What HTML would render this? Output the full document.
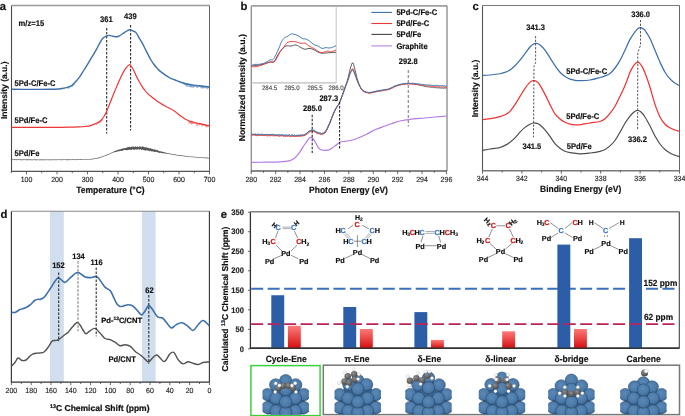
<!DOCTYPE html>
<html><head><meta charset="utf-8"><style>
html,body{margin:0;padding:0;background:#fff;}
svg{display:block;font-family:"Liberation Sans", sans-serif;text-rendering:geometricPrecision;}
</style></head><body>
<svg width="685" height="416" viewBox="0 0 685 416" style="will-change:transform">
<rect width="685" height="416" fill="#fff"/>
<line x1="11.5" y1="5.5" x2="11.5" y2="171.4" stroke="#4a4a4a" stroke-width="1.1"/>
<line x1="11.0" y1="171.4" x2="209.5" y2="171.4" stroke="#555" stroke-width="1.1"/>
<line x1="11.5" y1="5.5" x2="209.5" y2="5.5" stroke="#999" stroke-width="1.3"/>
<line x1="209.5" y1="5.5" x2="209.5" y2="171.4" stroke="#666" stroke-width="1.0"/>
<line x1="11.25" y1="171.4" x2="11.25" y2="173.20000000000002" stroke="#444" stroke-width="0.8" />
<line x1="26.5" y1="171.4" x2="26.5" y2="174.4" stroke="#444" stroke-width="0.8" />
<line x1="41.75" y1="171.4" x2="41.75" y2="173.20000000000002" stroke="#444" stroke-width="0.8" />
<line x1="57.0" y1="171.4" x2="57.0" y2="174.4" stroke="#444" stroke-width="0.8" />
<line x1="72.25" y1="171.4" x2="72.25" y2="173.20000000000002" stroke="#444" stroke-width="0.8" />
<line x1="87.5" y1="171.4" x2="87.5" y2="174.4" stroke="#444" stroke-width="0.8" />
<line x1="102.75" y1="171.4" x2="102.75" y2="173.20000000000002" stroke="#444" stroke-width="0.8" />
<line x1="118.0" y1="171.4" x2="118.0" y2="174.4" stroke="#444" stroke-width="0.8" />
<line x1="133.25" y1="171.4" x2="133.25" y2="173.20000000000002" stroke="#444" stroke-width="0.8" />
<line x1="148.5" y1="171.4" x2="148.5" y2="174.4" stroke="#444" stroke-width="0.8" />
<line x1="163.75" y1="171.4" x2="163.75" y2="173.20000000000002" stroke="#444" stroke-width="0.8" />
<line x1="179.0" y1="171.4" x2="179.0" y2="174.4" stroke="#444" stroke-width="0.8" />
<line x1="194.25" y1="171.4" x2="194.25" y2="173.20000000000002" stroke="#444" stroke-width="0.8" />
<line x1="209.5" y1="171.4" x2="209.5" y2="174.4" stroke="#444" stroke-width="0.8" />
<text transform="translate(26.50,182) scale(1,1.07)" font-size="7" font-weight="normal" text-anchor="middle" fill="#222" stroke="#222" stroke-width="0.12" >100</text>
<text transform="translate(57.00,182) scale(1,1.07)" font-size="7" font-weight="normal" text-anchor="middle" fill="#222" stroke="#222" stroke-width="0.12" >200</text>
<text transform="translate(87.50,182) scale(1,1.07)" font-size="7" font-weight="normal" text-anchor="middle" fill="#222" stroke="#222" stroke-width="0.12" >300</text>
<text transform="translate(118.00,182) scale(1,1.07)" font-size="7" font-weight="normal" text-anchor="middle" fill="#222" stroke="#222" stroke-width="0.12" >400</text>
<text transform="translate(148.50,182) scale(1,1.07)" font-size="7" font-weight="normal" text-anchor="middle" fill="#222" stroke="#222" stroke-width="0.12" >500</text>
<text transform="translate(179.00,182) scale(1,1.07)" font-size="7" font-weight="normal" text-anchor="middle" fill="#222" stroke="#222" stroke-width="0.12" >600</text>
<text transform="translate(209.50,182) scale(1,1.07)" font-size="7" font-weight="normal" text-anchor="middle" fill="#222" stroke="#222" stroke-width="0.12" >700</text>
<text transform="translate(110.4,193) scale(1,1.07)" font-size="8.5" font-weight="bold" text-anchor="middle" fill="#111" stroke="#111" stroke-width="0.16" >Temperature (°C)</text>
<text transform="translate(6.9,90.3) rotate(-90)" x="0" y="0" font-size="8.5" font-weight="bold" text-anchor="middle" fill="#111" stroke="#111" stroke-width="0.16">Intensity (a.u.)</text>
<text x="-0.2" y="10.0" font-size="11.3" font-weight="bold" fill="#111" stroke="#111" stroke-width="0.2">a</text>
<text transform="translate(18.6,25.6) scale(1,1.07)" font-size="7.6" font-weight="bold" text-anchor="start" fill="#111" stroke="#111" stroke-width="0.16" >m/z=15</text>
<text transform="translate(106.4,21.6) scale(1,1.07)" font-size="7.6" font-weight="bold" text-anchor="middle" fill="#111" stroke="#111" stroke-width="0.16" >361</text>
<text transform="translate(130.4,19.2) scale(1,1.07)" font-size="7.6" font-weight="bold" text-anchor="middle" fill="#111" stroke="#111" stroke-width="0.16" >439</text>
<text transform="translate(14.5,85.5) scale(1,1.07)" font-size="7.6" font-weight="bold" text-anchor="start" fill="#111" stroke="#111" stroke-width="0.16" >5Pd-C/Fe-C</text>
<text transform="translate(14.5,123) scale(1,1.07)" font-size="7.6" font-weight="bold" text-anchor="start" fill="#111" stroke="#111" stroke-width="0.16" >5Pd/Fe-C</text>
<text transform="translate(14.5,156) scale(1,1.07)" font-size="7.6" font-weight="bold" text-anchor="start" fill="#111" stroke="#111" stroke-width="0.16" >5Pd/Fe</text>
<line x1="106.7" y1="28" x2="106.7" y2="133.5" stroke="#222" stroke-width="1.05" stroke-dasharray="2.5,1.5"/>
<line x1="130.6" y1="25" x2="130.6" y2="130.5" stroke="#222" stroke-width="1.05" stroke-dasharray="2.5,1.5"/>
<path d="M11.50,159.66 L11.80,160.01 L12.10,159.63 L12.40,160.02 L12.70,159.58 L13.00,159.91 L13.30,159.71 L13.60,160.07 L13.90,159.66 L14.20,159.95 L14.50,159.51 L14.80,160.00 L15.10,159.55 L15.40,160.00 L15.70,159.59 L16.00,159.94 L16.30,159.59 L16.60,160.09 L16.90,159.62 L17.20,160.07 L17.50,159.59 L17.80,159.93 L18.10,159.58 L18.40,160.04 L18.70,159.67 L19.00,159.93 L19.30,159.56 L19.60,160.02 L19.90,159.59 L20.20,160.11 L20.50,159.60 L20.80,160.12 L21.10,159.67 L21.40,160.10 L21.70,159.66 L22.00,160.13 L22.30,159.57 L22.60,159.96 L22.90,159.73 L23.20,159.98 L23.50,159.56 L23.80,160.03 L24.10,159.63 L24.40,160.01 L24.70,159.66 L25.00,160.03 L25.30,159.69 L25.60,160.07 L25.90,159.65 L26.20,160.14 L26.50,159.63 L26.80,160.15 L27.10,159.59 L27.40,160.16 L27.70,159.63 L28.00,159.99 L28.30,159.60 L28.60,160.16 L28.90,159.59 L29.20,160.08 L29.50,159.63 L29.80,160.01 L30.10,159.61 L30.40,160.09 L30.70,159.73 L31.00,159.98 L31.30,159.61 L31.60,160.18 L31.90,159.77 L32.20,160.14 L32.50,159.71 L32.80,160.01 L33.10,159.73 L33.40,160.14 L33.70,159.61 L34.00,159.99 L34.30,159.67 L34.60,159.99 L34.90,159.65 L35.20,160.05 L35.50,159.62 L35.80,160.19 L36.10,159.70 L36.40,160.19 L36.70,159.74 L37.00,160.00 L37.30,159.68 L37.60,159.99 L37.90,159.77 L38.20,160.07 L38.50,159.68 L38.80,160.02 L39.10,159.80 L39.40,160.17 L39.70,159.74 L40.00,160.19 L40.30,159.62 L40.60,160.07 L40.90,159.72 L41.20,160.10 L41.50,159.68 L41.80,160.12 L42.10,159.70 L42.40,160.12 L42.70,159.62 L43.00,160.10 L43.30,159.72 L43.60,160.15 L43.90,159.77 L44.20,160.06 L44.50,159.61 L44.80,160.11 L45.10,159.70 L45.40,160.00 L45.70,159.73 L46.00,160.12 L46.30,159.81 L46.60,160.12 L46.90,159.68 L47.20,160.01 L47.50,159.68 L47.80,160.09 L48.10,159.67 L48.40,160.07 L48.70,159.66 L49.00,160.15 L49.30,159.81 L49.60,160.00 L49.90,159.67 L50.20,160.19 L50.50,159.76 L50.80,160.08 L51.10,159.68 L51.40,160.05 L51.70,159.73 L52.00,160.05 L52.30,159.73 L52.60,160.11 L52.90,159.74 L53.20,160.06 L53.50,159.64 L53.80,159.98 L54.10,159.68 L54.40,160.13 L54.70,159.73 L55.00,160.02 L55.30,159.63 L55.60,160.02 L55.90,159.75 L56.20,160.06 L56.50,159.64 L56.80,159.99 L57.10,159.72 L57.40,160.04 L57.70,159.61 L58.00,160.06 L58.30,159.60 L58.60,160.00 L58.90,159.71 L59.20,160.10 L59.50,159.59 L59.80,160.05 L60.10,159.73 L60.40,159.98 L60.70,159.66 L61.00,159.99 L61.30,159.60 L61.60,160.13 L61.90,159.73 L62.20,160.01 L62.50,159.60 L62.80,160.08 L63.10,159.60 L63.40,160.02 L63.70,159.73 L64.00,160.00 L64.30,159.59 L64.60,159.99 L64.90,159.68 L65.20,160.02 L65.50,159.66 L65.80,160.02 L66.10,159.56 L66.40,159.96 L66.70,159.74 L67.00,160.12 L67.30,159.56 L67.60,160.13 L67.90,159.65 L68.20,160.12 L68.50,159.54 L68.80,159.96 L69.10,159.57 L69.40,160.08 L69.70,159.59 L70.00,160.01 L70.30,159.66 L70.60,159.97 L70.90,159.67 L71.20,159.91 L71.50,159.59 L71.80,159.95 L72.10,159.54 L72.40,159.89 L72.70,159.51 L73.00,160.02 L73.30,159.50 L73.60,160.06 L73.90,159.50 L74.20,159.99 L74.50,159.68 L74.80,160.02 L75.10,159.64 L75.40,159.92 L75.70,159.53 L76.00,159.96 L76.30,159.58 L76.60,160.04 L76.90,159.53 L77.20,159.91 L77.50,159.60 L77.80,160.01 L78.10,159.54 L78.40,159.98 L78.70,159.56 L79.00,159.85 L79.30,159.51 L79.60,159.97 L79.90,159.58 L80.20,159.96 L80.50,159.41 L80.80,159.95 L81.10,159.42 L81.40,159.77 L81.70,159.45 L82.00,159.94 L82.30,159.56 L82.60,159.81 L82.90,159.51 L83.20,159.85 L83.50,159.46 L83.80,159.82 L84.10,159.37 L84.40,159.71 L84.70,159.51 L85.00,159.72 L85.30,159.47 L85.60,159.69 L85.90,159.28 L86.20,159.83 L86.50,159.44 L86.80,159.73 L87.10,159.37 L87.40,159.67 L87.70,159.34 L88.00,159.71 L88.30,159.26 L88.60,159.62 L88.90,159.30 L89.20,159.57 L89.50,159.28 L89.80,159.58 L90.10,159.11 L90.40,159.49 L90.70,159.19 L91.00,159.39 L91.30,159.06 L91.60,159.41 L91.90,158.90 L92.20,159.28 L92.50,158.80 L92.80,159.23 L93.10,158.77 L93.40,159.06 L93.70,158.63 L94.00,159.01 L94.30,158.54 L94.60,158.90 L94.90,158.43 L95.20,158.71 L95.50,158.32 L95.80,158.71 L96.10,158.32 L96.40,158.55 L96.70,158.13 L97.00,158.53 L97.30,157.90 L97.60,158.28 L97.90,157.75 L98.20,158.20 L98.50,157.71 L98.80,157.95 L99.10,157.56 L99.40,157.84 L99.70,157.26 L100.00,157.68 L100.30,157.05 L100.60,157.45 L100.90,156.88 L101.20,157.24 L101.50,156.82 L101.80,157.05 L102.10,156.65 L102.40,156.76 L102.70,156.29 L103.00,156.54 L103.30,156.23 L103.60,156.35 L103.90,155.86 L104.20,156.16 L104.50,155.83 L104.80,156.08 L105.10,155.59 L105.40,155.87 L105.70,155.26 L106.00,155.65 L106.30,154.98 L106.60,155.37 L106.90,154.78 L107.20,155.02 L107.50,154.55 L107.80,154.87 L108.10,154.31 L108.40,154.53 L108.70,154.04 L109.00,154.43 L109.30,153.91 L109.60,154.03 L109.90,153.53 L110.20,153.86 L110.50,153.32 L110.80,153.45 L111.10,153.04 L111.40,153.26 L111.70,152.66 L112.00,152.95 L112.30,152.48 L112.60,152.70 L112.90,152.20 L113.20,152.50 L113.50,152.00 L113.80,152.32 L114.10,151.44 L114.40,152.11 L114.70,151.25 L115.00,151.84 L115.30,151.02 L115.60,151.94 L115.90,150.79 L116.20,151.68 L116.50,150.65 L116.80,151.60 L117.10,150.20 L117.40,151.18 L117.70,150.44 L118.00,151.39 L118.30,149.73 L118.60,151.11 L118.90,149.83 L119.20,151.12 L119.50,149.81 L119.80,150.68 L120.10,149.62 L120.40,150.79 L120.70,149.36 L121.00,150.39 L121.30,148.88 L121.60,150.86 L121.90,149.03 L122.20,150.55 L122.50,148.77 L122.80,150.59 L123.10,148.46 L123.40,149.95 L123.70,148.64 L124.00,149.62 L124.30,148.25 L124.60,149.87 L124.90,148.42 L125.20,149.76 L125.50,148.15 L125.80,150.10 L126.10,148.22 L126.40,150.27 L126.70,147.76 L127.00,149.79 L127.30,147.66 L127.60,150.00 L127.90,147.17 L128.20,149.64 L128.50,147.46 L128.80,149.78 L129.10,146.94 L129.40,149.36 L129.70,147.00 L130.00,149.98 L130.30,147.24 L130.60,149.07 L130.90,147.45 L131.20,149.62 L131.50,146.86 L131.80,149.89 L132.10,146.58 L132.40,148.98 L132.70,147.35 L133.00,148.97 L133.30,147.31 L133.60,149.51 L133.90,146.41 L134.20,149.74 L134.50,147.14 L134.80,149.68 L135.10,147.04 L135.40,149.09 L135.70,146.47 L136.00,148.64 L136.30,147.28 L136.60,149.62 L136.90,147.01 L137.20,148.99 L137.50,146.63 L137.80,149.43 L138.10,147.40 L138.40,149.00 L138.70,146.86 L139.00,149.24 L139.30,147.19 L139.60,149.41 L139.90,146.25 L140.20,149.20 L140.50,146.85 L140.80,148.90 L141.10,147.27 L141.40,149.69 L141.70,147.55 L142.00,150.04 L142.30,146.57 L142.60,149.06 L142.90,146.60 L143.20,149.50 L143.50,146.91 L143.80,150.09 L144.10,147.63 L144.40,150.06 L144.70,147.27 L145.00,150.32 L145.30,147.88 L145.60,150.35 L145.90,147.11 L146.20,150.34 L146.50,147.78 L146.80,149.74 L147.10,147.96 L147.40,150.15 L147.70,147.81 L148.00,150.66 L148.30,148.13 L148.60,150.16 L148.90,148.17 L149.20,150.81 L149.50,148.87 L149.80,151.23 L150.10,148.44 L150.40,150.43 L150.70,148.27 L151.00,150.57 L151.30,149.11 L151.60,151.34 L151.90,148.96 L152.20,151.26 L152.50,149.06 L152.80,151.27 L153.10,149.58 L153.40,151.09 L153.70,149.99 L154.00,151.77 L154.30,149.43 L154.60,151.70 L154.90,149.61 L155.20,151.63 L155.50,150.25 L155.80,151.77 L156.10,149.83 L156.40,151.57 L156.70,150.34 L157.00,151.88 L157.30,150.27 L157.60,152.09 L157.90,150.82 L158.20,152.24 L158.50,150.81 L158.80,152.65 L159.10,151.13 L159.40,152.80 L159.70,151.47 L160.00,152.46 L160.30,151.63 L160.60,152.46 L160.90,151.32 L161.20,152.98 L161.50,151.88 L161.80,152.73 L162.10,151.89 L162.40,153.16 L162.70,151.83 L163.00,153.24 L163.30,152.12 L163.60,153.01 L163.90,152.38 L164.20,153.13 L164.50,152.48 L164.80,153.38 L165.10,152.77 L165.40,153.33 L165.70,152.71 L166.00,153.34 L166.30,152.87 L166.60,153.68 L166.90,153.00 L167.20,153.61 L167.50,153.26 L167.80,153.74 L168.10,153.36 L168.40,153.93 L168.70,153.46 L169.00,153.90 L169.30,153.53 L169.60,154.05 L169.90,153.69 L170.20,154.20 L170.50,153.92 L170.80,154.32 L171.10,153.89 L171.40,154.36 L171.70,154.02 L172.00,154.46 L172.30,154.19 L172.60,154.57 L172.90,154.33 L173.20,154.67 L173.50,154.30 L173.80,154.75 L174.10,154.41 L174.40,154.96 L174.70,154.44 L175.00,154.88 L175.30,154.55 L175.60,155.08 L175.90,154.80 L176.20,155.11 L176.50,154.86 L176.80,155.15 L177.10,154.88 L177.40,155.42 L177.70,155.02 L178.00,155.49 L178.30,155.03 L178.60,155.42 L178.90,155.08 L179.20,155.61 L179.50,155.15 L179.80,155.71 L180.10,155.27 L180.40,155.72 L180.70,155.33 L181.00,155.92 L181.30,155.40 L181.60,155.89 L181.90,155.50 L182.20,155.98 L182.50,155.71 L182.80,155.96 L183.10,155.79 L183.40,156.06 L183.70,155.84 L184.00,156.20 L184.30,155.80 L184.60,156.27 L184.90,155.93 L185.20,156.37 L185.50,156.02 L185.80,156.39 L186.10,155.99 L186.40,156.44 L186.70,156.17 L187.00,156.61 L187.30,156.12 L187.60,156.56 L187.90,156.26 L188.20,156.66 L188.50,156.27 L188.80,156.65 L189.10,156.45 L189.40,156.71 L189.70,156.35 L190.00,156.75 L190.30,156.48 L190.60,156.82 L190.90,156.59 L191.20,156.87 L191.50,156.60 L191.80,156.93 L192.10,156.74 L192.40,156.97 L192.70,156.76 L193.00,157.11 L193.30,156.84 L193.60,157.07 L193.90,156.82 L194.20,157.20 L194.50,156.82 L194.80,157.18 L195.10,156.93 L195.40,157.31 L195.70,157.07 L196.00,157.48 L196.30,157.08 L196.60,157.35 L196.90,157.08 L197.20,157.42 L197.50,157.09 L197.80,157.50 L198.10,157.25 L198.40,157.49 L198.70,157.17 L199.00,157.58 L199.30,157.20 L199.60,157.67 L199.90,157.22 L200.20,157.68 L200.50,157.41 L200.80,157.72 L201.10,157.34 L201.40,157.84 L201.70,157.48 L202.00,157.77 L202.30,157.45 L202.60,158.00 L202.90,157.51 L203.20,157.84 L203.50,157.68 L203.80,157.90 L204.10,157.69 L204.40,157.93 L204.70,157.76 L205.00,158.11 L205.30,157.62 L205.60,158.05 L205.90,157.65 L206.20,158.15 L206.50,157.73 L206.80,158.29 L207.10,157.74 L207.40,158.15 L207.70,157.92 L208.00,158.31 L208.30,157.82 L208.60,158.24 L208.90,158.00 L209.20,158.45" fill="none" stroke="#474747" stroke-width="0.6"/>
<path d="M11.50,127.30 C17.92,127.32 40.25,127.42 50.00,127.40 C59.75,127.38 65.00,127.30 70.00,127.20 C75.00,127.10 77.50,126.92 80.00,126.80 C82.50,126.68 83.33,126.67 85.00,126.50 C86.67,126.33 88.33,126.25 90.00,125.80 C91.67,125.35 93.33,124.55 95.00,123.80 C96.67,123.05 98.50,122.52 100.00,121.30 C101.50,120.08 102.92,118.10 104.00,116.50 C105.08,114.90 105.50,113.95 106.50,111.70 C107.50,109.45 108.58,106.52 110.00,103.00 C111.42,99.48 113.33,94.60 115.00,90.60 C116.67,86.60 118.33,82.53 120.00,79.00 C121.67,75.47 123.45,71.77 125.00,69.40 C126.55,67.03 128.30,65.32 129.30,64.80 C130.30,64.28 130.38,65.60 131.00,66.30 C131.62,67.00 132.17,67.48 133.00,69.00 C133.83,70.52 135.00,73.35 136.00,75.40 C137.00,77.45 138.00,79.48 139.00,81.30 C140.00,83.12 141.00,84.77 142.00,86.30 C143.00,87.83 144.00,89.23 145.00,90.50 C146.00,91.77 147.17,93.05 148.00,93.90 C148.83,94.75 148.83,94.65 150.00,95.60 C151.17,96.55 153.33,98.35 155.00,99.60 C156.67,100.85 158.33,102.03 160.00,103.10 C161.67,104.17 163.33,105.10 165.00,106.00 C166.67,106.90 168.33,107.58 170.00,108.50 C171.67,109.42 173.33,110.33 175.00,111.50 C176.67,112.67 178.33,114.25 180.00,115.50 C181.67,116.75 183.33,118.05 185.00,119.00 C186.67,119.95 187.50,120.42 190.00,121.20 C192.50,121.98 196.75,122.93 200.00,123.70 C203.25,124.47 207.92,125.45 209.50,125.80" fill="none" stroke="#ee3535" stroke-width="1.2" stroke-linejoin="round" />
<path d="M11.50,89.30 C14.58,89.32 23.58,89.40 30.00,89.40 C36.42,89.40 45.83,89.33 50.00,89.30 C54.17,89.27 53.00,89.33 55.00,89.20 C57.00,89.07 59.83,88.83 62.00,88.50 C64.17,88.17 66.33,87.75 68.00,87.20 C69.67,86.65 70.67,86.18 72.00,85.20 C73.33,84.22 74.67,82.78 76.00,81.30 C77.33,79.82 78.67,78.18 80.00,76.30 C81.33,74.42 82.67,72.10 84.00,70.00 C85.33,67.90 86.67,65.88 88.00,63.70 C89.33,61.52 90.67,59.15 92.00,56.90 C93.33,54.65 94.67,52.58 96.00,50.20 C97.33,47.82 98.83,44.62 100.00,42.60 C101.17,40.58 102.00,39.17 103.00,38.10 C104.00,37.03 105.00,36.65 106.00,36.20 C107.00,35.75 107.83,35.38 109.00,35.40 C110.17,35.42 111.67,36.07 113.00,36.30 C114.33,36.53 115.83,36.93 117.00,36.80 C118.17,36.67 119.00,36.05 120.00,35.50 C121.00,34.95 121.83,34.28 123.00,33.50 C124.17,32.72 125.83,31.42 127.00,30.80 C128.17,30.18 129.00,29.78 130.00,29.80 C131.00,29.82 132.00,30.43 133.00,30.90 C134.00,31.37 135.00,31.48 136.00,32.60 C137.00,33.72 138.00,35.93 139.00,37.60 C140.00,39.27 141.00,40.78 142.00,42.60 C143.00,44.42 144.00,46.53 145.00,48.50 C146.00,50.47 147.00,52.48 148.00,54.40 C149.00,56.32 150.00,58.32 151.00,60.00 C152.00,61.68 153.00,63.17 154.00,64.50 C155.00,65.83 156.00,66.90 157.00,68.00 C158.00,69.10 158.67,69.95 160.00,71.10 C161.33,72.25 163.33,73.75 165.00,74.90 C166.67,76.05 168.33,77.15 170.00,78.00 C171.67,78.85 173.33,79.33 175.00,80.00 C176.67,80.67 178.33,81.42 180.00,82.00 C181.67,82.58 183.00,83.02 185.00,83.50 C187.00,83.98 189.50,84.53 192.00,84.90 C194.50,85.27 197.08,85.35 200.00,85.70 C202.92,86.05 207.92,86.78 209.50,87.00" fill="none" stroke="#3d70ac" stroke-width="1.4" stroke-linejoin="round" />
<path d="M183.00,82.97 L183.20,83.91 M184.00,83.25 L184.20,84.89 M185.00,83.50 L185.20,85.00 M186.00,83.74 L186.20,86.12 M187.00,83.96 L187.20,86.98 M188.00,84.18 L188.20,85.27 M189.00,84.38 L189.20,86.92 M190.00,84.57 L190.20,87.09 M191.00,84.74 L191.20,87.52 M192.00,84.90 L192.20,86.96 M193.00,85.03 L193.20,88.04 M194.00,85.14 L194.20,86.71 M195.00,85.23 L195.20,86.94 M196.00,85.32 L196.20,86.55 M197.00,85.40 L197.20,88.04 M198.00,85.49 L198.20,87.36 M199.00,85.59 L199.20,86.92 M200.00,85.70 L200.20,86.77 M201.00,85.82 L201.20,88.31 M202.00,85.95 L202.20,88.15 M203.00,86.09 L203.20,88.55 M204.00,86.23 L204.20,87.86 M205.00,86.36 L205.20,88.25 M206.00,86.51 L206.20,87.54 M207.00,86.65 L207.20,89.11 M208.00,86.79 L208.20,87.49 M209.00,86.93 L209.20,88.77" fill="none" stroke="#3d70ac" stroke-width="0.75"/>
<path d="M68.00,87.20 L68.20,88.81 M69.00,86.85 L69.20,88.33 M70.00,86.42 L70.20,86.98 M71.00,85.88 L71.20,86.66 M72.00,85.20 L72.20,86.95 M73.00,84.38 L73.20,85.81 M74.00,83.44 L74.20,85.24" fill="none" stroke="#3d70ac" stroke-width="0.75"/>
<path d="M189.00,120.87 L189.20,123.57 M190.00,121.20 L190.20,122.88 M191.00,121.50 L191.20,124.25 M192.00,121.77 L192.20,124.13 M193.00,122.03 L193.20,123.43 M194.00,122.28 L194.20,123.77 M195.00,122.52 L195.20,123.30 M196.00,122.76 L196.20,124.32 M197.00,123.00 L197.20,125.89 M198.00,123.23 L198.20,124.08 M199.00,123.47 L199.20,125.43 M200.00,123.70 L200.20,124.56 M201.00,123.93 L201.20,124.73 M202.00,124.16 L202.20,126.32 M203.00,124.38 L203.20,125.56 M204.00,124.61 L204.20,125.32 M205.00,124.82 L205.20,125.79 M206.00,125.04 L206.20,127.19 M207.00,125.26 L207.20,127.26 M208.00,125.47 L208.20,126.10 M209.00,125.69 L209.20,126.84" fill="none" stroke="#ee3535" stroke-width="0.75"/>
<path d="M96.00,123.38 L96.20,125.13 M97.00,122.97 L97.20,123.64 M98.00,122.52 L98.20,123.69 M99.00,121.99 L99.20,122.96 M100.00,121.30 L100.20,122.78 M101.00,120.37 L101.20,121.60 M102.00,119.24 L102.20,120.73" fill="none" stroke="#ee3535" stroke-width="0.75"/>
<line x1="251.25" y1="5.9" x2="251.25" y2="171.0" stroke="#777" stroke-width="1.1"/>
<line x1="250.75" y1="171.0" x2="447" y2="171.0" stroke="#888" stroke-width="1.8"/>
<line x1="251.25" y1="5.9" x2="447" y2="5.9" stroke="#a0a0a0" stroke-width="1.8"/>
<line x1="447" y1="5.9" x2="447" y2="171.0" stroke="#666" stroke-width="1.0"/>
<line x1="251.25" y1="171.0" x2="251.25" y2="174.0" stroke="#444" stroke-width="0.8" />
<line x1="263.45" y1="171.0" x2="263.45" y2="172.8" stroke="#444" stroke-width="0.8" />
<line x1="275.65" y1="171.0" x2="275.65" y2="174.0" stroke="#444" stroke-width="0.8" />
<line x1="287.85" y1="171.0" x2="287.85" y2="172.8" stroke="#444" stroke-width="0.8" />
<line x1="300.05" y1="171.0" x2="300.05" y2="174.0" stroke="#444" stroke-width="0.8" />
<line x1="312.25" y1="171.0" x2="312.25" y2="172.8" stroke="#444" stroke-width="0.8" />
<line x1="324.45" y1="171.0" x2="324.45" y2="174.0" stroke="#444" stroke-width="0.8" />
<line x1="336.65" y1="171.0" x2="336.65" y2="172.8" stroke="#444" stroke-width="0.8" />
<line x1="348.85" y1="171.0" x2="348.85" y2="174.0" stroke="#444" stroke-width="0.8" />
<line x1="361.05" y1="171.0" x2="361.05" y2="172.8" stroke="#444" stroke-width="0.8" />
<line x1="373.25" y1="171.0" x2="373.25" y2="174.0" stroke="#444" stroke-width="0.8" />
<line x1="385.45" y1="171.0" x2="385.45" y2="172.8" stroke="#444" stroke-width="0.8" />
<line x1="397.65" y1="171.0" x2="397.65" y2="174.0" stroke="#444" stroke-width="0.8" />
<line x1="409.85" y1="171.0" x2="409.85" y2="172.8" stroke="#444" stroke-width="0.8" />
<line x1="422.04999999999995" y1="171.0" x2="422.04999999999995" y2="174.0" stroke="#444" stroke-width="0.8" />
<line x1="434.25" y1="171.0" x2="434.25" y2="172.8" stroke="#444" stroke-width="0.8" />
<line x1="446.45" y1="171.0" x2="446.45" y2="174.0" stroke="#444" stroke-width="0.8" />
<text transform="translate(251.25,181.5) scale(1,1.07)" font-size="7" font-weight="normal" text-anchor="middle" fill="#222" stroke="#222" stroke-width="0.12" >280</text>
<text transform="translate(275.65,181.5) scale(1,1.07)" font-size="7" font-weight="normal" text-anchor="middle" fill="#222" stroke="#222" stroke-width="0.12" >282</text>
<text transform="translate(300.05,181.5) scale(1,1.07)" font-size="7" font-weight="normal" text-anchor="middle" fill="#222" stroke="#222" stroke-width="0.12" >284</text>
<text transform="translate(324.45,181.5) scale(1,1.07)" font-size="7" font-weight="normal" text-anchor="middle" fill="#222" stroke="#222" stroke-width="0.12" >286</text>
<text transform="translate(348.85,181.5) scale(1,1.07)" font-size="7" font-weight="normal" text-anchor="middle" fill="#222" stroke="#222" stroke-width="0.12" >288</text>
<text transform="translate(373.25,181.5) scale(1,1.07)" font-size="7" font-weight="normal" text-anchor="middle" fill="#222" stroke="#222" stroke-width="0.12" >290</text>
<text transform="translate(397.65,181.5) scale(1,1.07)" font-size="7" font-weight="normal" text-anchor="middle" fill="#222" stroke="#222" stroke-width="0.12" >292</text>
<text transform="translate(422.05,181.5) scale(1,1.07)" font-size="7" font-weight="normal" text-anchor="middle" fill="#222" stroke="#222" stroke-width="0.12" >294</text>
<text transform="translate(446.45,181.5) scale(1,1.07)" font-size="7" font-weight="normal" text-anchor="middle" fill="#222" stroke="#222" stroke-width="0.12" >296</text>
<text transform="translate(348.5,193.0) scale(1,1.07)" font-size="8.5" font-weight="bold" text-anchor="middle" fill="#111" stroke="#111" stroke-width="0.16" >Photon Energy (eV)</text>
<text transform="translate(245.1,87.7) rotate(-90)" x="0" y="0" font-size="8.6" font-weight="bold" text-anchor="middle" fill="#111" stroke="#111" stroke-width="0.16">Normalized Intensity (a.u.)</text>
<text x="240.4" y="9.8" font-size="11.3" font-weight="bold" fill="#111" stroke="#111" stroke-width="0.2">b</text>
<line x1="251.25" y1="82.9" x2="336.2" y2="82.9" stroke="#bdbdbd" stroke-width="1.2"/>
<line x1="336.2" y1="5.9" x2="336.2" y2="82.9" stroke="#c4c4c4" stroke-width="1.0"/>
<text transform="translate(269.5,90) scale(1,1.07)" font-size="6.1" font-weight="normal" text-anchor="middle" fill="#444" stroke="#444" stroke-width="0.12" >284.5</text>
<text transform="translate(292,90) scale(1,1.07)" font-size="6.1" font-weight="normal" text-anchor="middle" fill="#444" stroke="#444" stroke-width="0.12" >285.0</text>
<text transform="translate(315,90) scale(1,1.07)" font-size="6.1" font-weight="normal" text-anchor="middle" fill="#444" stroke="#444" stroke-width="0.12" >285.5</text>
<text transform="translate(336,90) scale(1,1.07)" font-size="6.1" font-weight="normal" text-anchor="middle" fill="#444" stroke="#444" stroke-width="0.12" >286.0</text>
<path d="M251.50,66.00 C253.25,65.75 258.92,65.17 262.00,64.50 C265.08,63.83 268.00,62.50 270.00,62.00 C272.00,61.50 272.67,62.73 274.00,61.50 C275.33,60.27 276.67,56.63 278.00,54.60 C279.33,52.57 280.67,50.73 282.00,49.30 C283.33,47.87 284.50,46.55 286.00,46.00 C287.50,45.45 289.33,46.17 291.00,46.00 C292.67,45.83 294.33,44.73 296.00,45.00 C297.67,45.27 299.50,46.88 301.00,47.60 C302.50,48.32 303.67,49.17 305.00,49.30 C306.33,49.43 307.67,48.40 309.00,48.40 C310.33,48.40 311.50,48.70 313.00,49.30 C314.50,49.90 316.50,51.35 318.00,52.00 C319.50,52.65 320.00,53.10 322.00,53.20 C324.00,53.30 327.67,52.75 330.00,52.60 C332.33,52.45 335.00,52.35 336.00,52.30" fill="none" stroke="#474747" stroke-width="0.9" stroke-linejoin="round" />
<path d="M251.50,66.40 C252.25,66.47 254.25,67.03 256.00,66.80 C257.75,66.57 260.33,65.57 262.00,65.00 C263.67,64.43 264.67,63.90 266.00,63.40 C267.33,62.90 268.67,62.23 270.00,62.00 C271.33,61.77 272.83,62.70 274.00,62.00 C275.17,61.30 276.00,59.48 277.00,57.80 C278.00,56.12 278.83,53.75 280.00,51.90 C281.17,50.05 282.83,48.23 284.00,46.70 C285.17,45.17 285.67,43.58 287.00,42.70 C288.33,41.82 290.33,41.50 292.00,41.40 C293.67,41.30 295.50,41.77 297.00,42.10 C298.50,42.43 299.67,43.23 301.00,43.40 C302.33,43.57 303.67,42.67 305.00,43.10 C306.33,43.53 307.50,45.08 309.00,46.00 C310.50,46.92 312.50,47.72 314.00,48.60 C315.50,49.48 316.67,50.63 318.00,51.30 C319.33,51.97 320.33,52.65 322.00,52.60 C323.67,52.55 326.50,51.12 328.00,51.00 C329.50,50.88 329.67,52.07 331.00,51.90 C332.33,51.73 335.17,50.32 336.00,50.00" fill="none" stroke="#ee3535" stroke-width="0.9" stroke-linejoin="round" />
<path d="M251.50,65.70 C251.92,65.48 252.92,64.62 254.00,64.40 C255.08,64.18 256.67,64.50 258.00,64.40 C259.33,64.30 260.67,64.13 262.00,63.80 C263.33,63.47 264.67,63.07 266.00,62.40 C267.33,61.73 268.83,60.27 270.00,59.80 C271.17,59.33 272.00,60.47 273.00,59.60 C274.00,58.73 275.00,56.53 276.00,54.60 C277.00,52.67 278.00,50.30 279.00,48.00 C280.00,45.70 281.00,42.55 282.00,40.80 C283.00,39.05 284.00,38.27 285.00,37.50 C286.00,36.73 287.00,36.80 288.00,36.20 C289.00,35.60 289.83,34.18 291.00,33.90 C292.17,33.62 293.67,34.12 295.00,34.50 C296.33,34.88 297.67,35.48 299.00,36.20 C300.33,36.92 301.83,38.33 303.00,38.80 C304.17,39.27 304.83,38.57 306.00,39.00 C307.17,39.43 308.67,40.45 310.00,41.40 C311.33,42.35 312.67,43.93 314.00,44.70 C315.33,45.47 316.67,45.38 318.00,46.00 C319.33,46.62 320.67,48.13 322.00,48.40 C323.33,48.67 324.67,47.67 326.00,47.60 C327.33,47.53 328.33,48.30 330.00,48.00 C331.67,47.70 335.00,46.17 336.00,45.80" fill="none" stroke="#3d70ac" stroke-width="0.9" stroke-linejoin="round" />
<line x1="371.4" y1="12.4" x2="392.1" y2="12.4" stroke="#3d70ac" stroke-width="1.1" />
<text transform="translate(396.4,15.3) scale(1,1.07)" font-size="7.6" font-weight="bold" text-anchor="start" fill="#111" stroke="#111" stroke-width="0.16" >5Pd-C/Fe-C</text>
<line x1="371.4" y1="23.5" x2="392.1" y2="23.5" stroke="#ee3535" stroke-width="1.1" />
<text transform="translate(396.4,26.4) scale(1,1.07)" font-size="7.6" font-weight="bold" text-anchor="start" fill="#111" stroke="#111" stroke-width="0.16" >5Pd/Fe-C</text>
<line x1="371.4" y1="34.4" x2="392.1" y2="34.4" stroke="#474747" stroke-width="1.1" />
<text transform="translate(396.4,37.3) scale(1,1.07)" font-size="7.6" font-weight="bold" text-anchor="start" fill="#111" stroke="#111" stroke-width="0.16" >5Pd/Fe</text>
<line x1="371.4" y1="45.9" x2="392.1" y2="45.9" stroke="#cdaaf0" stroke-width="1.6" />
<text transform="translate(396.4,48.8) scale(1,1.07)" font-size="7.6" font-weight="bold" text-anchor="start" fill="#111" stroke="#111" stroke-width="0.16" >Graphite</text>
<path d="M251.50,134.72 L252.20,134.50 L252.90,134.51 L253.60,134.46 L254.30,135.00 L255.00,134.51 L255.70,134.47 L256.40,135.14 L257.10,134.62 L257.80,135.13 L258.50,134.58 L259.20,134.86 L259.90,134.70 L260.60,135.14 L261.30,135.01 L262.00,135.04 L262.70,135.14 L263.40,135.23 L264.10,134.87 L264.80,135.06 L265.50,134.97 L266.20,134.75 L266.90,135.27 L267.60,135.11 L268.30,135.28 L269.00,134.87 L269.70,135.12 L270.40,135.09 L271.10,135.29 L271.80,134.85 L272.50,135.06 L273.20,135.18 L273.90,134.91 L274.60,135.27 L275.30,135.42 L276.00,135.22 L276.70,135.40 L277.40,135.39 L278.10,135.14 L278.80,135.26 L279.50,135.73 L280.20,135.29 L280.90,135.38 L281.60,135.16 L282.30,135.28 L283.00,135.26 L283.70,135.82 L284.40,135.70 L285.10,135.83 L285.80,135.93 L286.50,135.69 L287.20,135.93 L287.90,135.68 L288.60,135.61 L289.30,136.00 L290.00,135.98 L290.70,136.03 L291.40,135.72 L292.10,135.94 L292.80,135.70 L293.50,136.14 L294.20,136.10 L294.90,135.68 L295.60,136.14 L296.30,135.63 L297.00,135.57 L297.70,136.01 L298.40,135.71 L299.10,135.85 L299.80,135.91 L300.50,135.45 L301.20,135.89 L301.90,135.49 L302.60,135.50 L303.30,135.29 L304.00,135.36 L304.70,135.10 L305.40,134.45 L306.10,133.87 L306.80,133.45 L307.50,132.93 L308.20,132.09 L308.90,131.62 L309.60,131.62 L310.30,131.17 L311.00,131.04 L311.70,130.86 L312.40,130.79 L313.10,130.62 L313.80,130.77 L314.50,131.23 L315.20,131.67 L315.90,132.13 L316.60,132.59 L317.30,132.84 L318.00,133.45 L318.70,133.24 L319.40,133.53 L320.10,133.96 L320.80,134.00 L321.50,133.68 L322.20,133.58 L322.90,133.80 L323.60,133.00 L324.30,132.71 L325.00,132.40 L325.70,131.56 L326.40,130.20 L327.10,128.76 L327.80,127.33 L328.50,126.09 L329.20,124.19 L329.90,122.87 L330.60,120.98 L331.30,119.30 L332.00,117.13 L332.70,115.41 L333.40,113.65 L334.10,112.19 L334.80,110.64 L335.50,109.17 L336.20,108.15 L336.90,106.80 L337.60,105.80 L338.30,104.77 L339.00,103.87 L339.70,102.33 L340.40,100.58 L341.10,98.61 L341.80,96.82 L342.50,94.98 L343.20,93.07 L343.90,91.19 L344.60,89.12 L345.30,86.79 L346.00,84.60 L346.70,82.64 L347.40,80.36 L348.10,77.79 L348.80,74.98 L349.50,71.70 L350.20,69.03 L350.90,66.52 L351.60,64.24 L352.30,62.98 L353.00,62.95 L353.70,64.71 L354.40,67.43 L355.10,70.26 L355.80,73.17 L356.50,76.09 L357.20,78.78 L357.90,81.04 L358.60,83.04 L359.30,84.68 L360.00,86.28 L360.70,87.87 L361.40,89.17 L362.10,89.94 L362.80,90.57 L363.50,91.06 L364.20,91.49 L364.90,91.93 L365.60,92.03 L366.30,92.46 L367.00,92.36 L367.70,92.63 L368.40,92.83 L369.10,92.77 L369.80,92.88 L370.50,92.80 L371.20,92.74 L371.90,92.49 L372.60,92.11 L373.30,92.18 L374.00,92.02 L374.70,91.85 L375.40,91.63 L376.10,91.67 L376.80,91.60 L377.50,91.14 L378.20,91.22 L378.90,90.96 L379.60,90.88 L380.30,90.90 L381.00,90.80 L381.70,90.55 L382.40,90.24 L383.10,90.41 L383.80,89.99 L384.50,89.95 L385.20,89.99 L385.90,89.66 L386.60,89.53 L387.30,89.67 L388.00,89.53 L388.70,89.11 L389.40,88.93 L390.10,88.61 L390.80,88.23 L391.50,87.94 L392.20,87.90 L392.90,87.16 L393.60,86.84 L394.30,86.48 L395.00,86.13 L395.70,86.05 L396.40,85.89 L397.10,85.69 L397.80,85.39 L398.50,85.25 L399.20,84.72 L399.90,84.64 L400.60,84.74 L401.30,84.24 L402.00,84.19 L402.70,84.17 L403.40,83.99 L404.10,84.00 L404.80,83.70 L405.50,83.66 L406.20,83.86 L406.90,83.48 L407.60,83.76 L408.30,83.48 L409.00,83.82 L409.70,83.72 L410.40,83.75 L411.10,83.59 L411.80,83.61 L412.50,83.96 L413.20,83.81 L413.90,83.90 L414.60,84.25 L415.30,84.38 L416.00,84.17 L416.70,84.67 L417.40,84.64 L418.10,84.73 L418.80,84.78 L419.50,85.05 L420.20,85.44 L420.90,85.32 L421.60,85.41 L422.30,85.57 L423.00,85.71 L423.70,85.94 L424.40,86.30 L425.10,86.09 L425.80,86.25 L426.50,86.67 L427.20,86.81 L427.90,86.91 L428.60,86.72 L429.30,86.87 L430.00,87.21 L430.70,87.12 L431.40,87.30 L432.10,87.22 L432.80,87.19 L433.50,87.39 L434.20,87.62 L434.90,87.70 L435.60,87.68 L436.30,87.69 L437.00,87.76 L437.70,87.77 L438.40,87.85 L439.10,88.00 L439.80,87.78 L440.50,87.97 L441.20,88.14 L441.90,88.14 L442.60,87.90 L443.30,88.24 L444.00,88.22 L444.70,87.97 L445.40,88.04 L446.10,88.04 L446.80,88.01" fill="none" stroke="#474747" stroke-width="0.9"/>
<path d="M251.50,135.53 L252.20,135.15 L252.90,135.49 L253.60,134.98 L254.30,134.93 L255.00,135.54 L255.70,135.51 L256.40,135.66 L257.10,135.46 L257.80,135.37 L258.50,135.55 L259.20,135.10 L259.90,135.43 L260.60,135.37 L261.30,135.18 L262.00,135.51 L262.70,135.33 L263.40,135.47 L264.10,135.39 L264.80,135.36 L265.50,135.41 L266.20,135.59 L266.90,135.87 L267.60,135.85 L268.30,135.81 L269.00,135.81 L269.70,135.44 L270.40,135.94 L271.10,135.47 L271.80,135.38 L272.50,135.67 L273.20,135.85 L273.90,135.60 L274.60,135.83 L275.30,135.60 L276.00,136.10 L276.70,135.76 L277.40,135.80 L278.10,135.86 L278.80,136.13 L279.50,136.23 L280.20,135.93 L280.90,135.89 L281.60,136.03 L282.30,135.67 L283.00,135.94 L283.70,136.26 L284.40,136.24 L285.10,135.76 L285.80,136.34 L286.50,136.03 L287.20,136.47 L287.90,136.06 L288.60,135.97 L289.30,136.22 L290.00,136.47 L290.70,136.17 L291.40,136.49 L292.10,136.40 L292.80,136.17 L293.50,136.15 L294.20,136.31 L294.90,136.25 L295.60,136.25 L296.30,136.45 L297.00,136.62 L297.70,136.42 L298.40,136.10 L299.10,136.14 L299.80,136.22 L300.50,136.35 L301.20,135.96 L301.90,135.85 L302.60,135.92 L303.30,135.75 L304.00,135.37 L304.70,135.46 L305.40,135.39 L306.10,134.67 L306.80,134.26 L307.50,133.72 L308.20,133.13 L308.90,132.65 L309.60,131.89 L310.30,131.66 L311.00,130.94 L311.70,131.29 L312.40,130.94 L313.10,131.19 L313.80,131.78 L314.50,131.71 L315.20,131.98 L315.90,132.84 L316.60,133.13 L317.30,133.15 L318.00,133.37 L318.70,133.79 L319.40,133.71 L320.10,134.43 L320.80,134.06 L321.50,134.16 L322.20,134.18 L322.90,134.10 L323.60,133.80 L324.30,133.57 L325.00,133.00 L325.70,132.00 L326.40,130.64 L327.10,129.86 L327.80,128.09 L328.50,125.98 L329.20,124.50 L329.90,123.02 L330.60,121.35 L331.30,119.22 L332.00,117.41 L332.70,115.83 L333.40,114.11 L334.10,112.67 L334.80,111.14 L335.50,109.58 L336.20,108.40 L336.90,107.30 L337.60,106.33 L338.30,105.05 L339.00,104.01 L339.70,102.50 L340.40,101.03 L341.10,98.90 L341.80,97.32 L342.50,95.22 L343.20,93.25 L343.90,91.04 L344.60,89.11 L345.30,87.27 L346.00,85.57 L346.70,83.61 L347.40,81.64 L348.10,79.93 L348.80,77.42 L349.50,74.86 L350.20,72.82 L350.90,71.15 L351.60,69.91 L352.30,68.64 L353.00,68.77 L353.70,70.04 L354.40,72.00 L355.10,74.19 L355.80,76.37 L356.50,78.62 L357.20,80.72 L357.90,82.37 L358.60,83.93 L359.30,85.61 L360.00,86.97 L360.70,88.16 L361.40,89.50 L362.10,90.09 L362.80,90.98 L363.50,91.52 L364.20,91.58 L364.90,92.21 L365.60,92.28 L366.30,92.45 L367.00,92.67 L367.70,92.82 L368.40,93.12 L369.10,93.06 L369.80,93.18 L370.50,93.10 L371.20,92.69 L371.90,92.70 L372.60,92.56 L373.30,92.32 L374.00,92.20 L374.70,92.06 L375.40,92.10 L376.10,91.82 L376.80,91.58 L377.50,91.49 L378.20,91.43 L378.90,91.34 L379.60,91.08 L380.30,91.12 L381.00,90.80 L381.70,90.86 L382.40,90.71 L383.10,90.41 L383.80,90.52 L384.50,90.25 L385.20,90.18 L385.90,90.08 L386.60,89.97 L387.30,89.77 L388.00,89.48 L388.70,89.60 L389.40,89.41 L390.10,89.00 L390.80,88.71 L391.50,88.25 L392.20,88.16 L392.90,87.71 L393.60,87.14 L394.30,87.02 L395.00,86.79 L395.70,86.28 L396.40,86.29 L397.10,85.85 L397.80,85.51 L398.50,85.51 L399.20,85.15 L399.90,85.12 L400.60,84.89 L401.30,84.55 L402.00,84.60 L402.70,84.62 L403.40,84.37 L404.10,84.30 L404.80,84.33 L405.50,84.06 L406.20,83.99 L406.90,83.97 L407.60,84.04 L408.30,83.78 L409.00,83.74 L409.70,84.01 L410.40,83.94 L411.10,83.86 L411.80,84.12 L412.50,84.16 L413.20,84.07 L413.90,84.31 L414.60,84.31 L415.30,84.35 L416.00,84.26 L416.70,84.25 L417.40,84.62 L418.10,84.76 L418.80,84.72 L419.50,84.90 L420.20,85.05 L420.90,85.04 L421.60,85.34 L422.30,85.40 L423.00,85.44 L423.70,85.43 L424.40,85.71 L425.10,85.70 L425.80,85.94 L426.50,85.80 L427.20,85.96 L427.90,85.95 L428.60,86.09 L429.30,86.22 L430.00,86.09 L430.70,86.12 L431.40,86.35 L432.10,86.29 L432.80,86.46 L433.50,86.37 L434.20,86.39 L434.90,86.61 L435.60,86.81 L436.30,86.83 L437.00,86.73 L437.70,86.72 L438.40,86.62 L439.10,86.74 L439.80,86.79 L440.50,87.08 L441.20,86.78 L441.90,87.14 L442.60,86.99 L443.30,87.00 L444.00,86.97 L444.70,87.28 L445.40,87.00 L446.10,87.19 L446.80,87.19" fill="none" stroke="#ee3535" stroke-width="0.9"/>
<path d="M251.50,133.89 L252.20,133.92 L252.90,134.47 L253.60,134.35 L254.30,134.33 L255.00,134.47 L255.70,133.92 L256.40,134.36 L257.10,134.41 L257.80,134.06 L258.50,134.24 L259.20,134.61 L259.90,134.18 L260.60,134.50 L261.30,134.09 L262.00,134.46 L262.70,134.19 L263.40,134.37 L264.10,134.29 L264.80,134.65 L265.50,134.58 L266.20,134.42 L266.90,134.56 L267.60,134.40 L268.30,134.67 L269.00,134.31 L269.70,134.52 L270.40,134.57 L271.10,134.45 L271.80,134.23 L272.50,134.34 L273.20,134.69 L273.90,134.41 L274.60,134.81 L275.30,134.66 L276.00,134.99 L276.70,134.94 L277.40,134.88 L278.10,134.65 L278.80,134.44 L279.50,134.82 L280.20,134.98 L280.90,135.12 L281.60,134.64 L282.30,134.63 L283.00,135.23 L283.70,135.09 L284.40,134.93 L285.10,135.13 L285.80,134.74 L286.50,135.04 L287.20,135.15 L287.90,135.12 L288.60,134.83 L289.30,134.83 L290.00,135.19 L290.70,135.38 L291.40,134.88 L292.10,134.81 L292.80,134.88 L293.50,135.39 L294.20,135.13 L294.90,135.19 L295.60,135.58 L296.30,135.33 L297.00,135.09 L297.70,135.40 L298.40,134.90 L299.10,135.09 L299.80,135.35 L300.50,134.94 L301.20,134.79 L301.90,135.06 L302.60,134.82 L303.30,135.13 L304.00,134.32 L304.70,134.54 L305.40,133.92 L306.10,133.76 L306.80,132.96 L307.50,132.51 L308.20,131.67 L308.90,131.07 L309.60,130.80 L310.30,130.64 L311.00,130.00 L311.70,129.74 L312.40,129.87 L313.10,129.82 L313.80,130.28 L314.50,130.81 L315.20,131.13 L315.90,131.58 L316.60,131.81 L317.30,132.01 L318.00,132.27 L318.70,132.68 L319.40,132.74 L320.10,133.14 L320.80,133.02 L321.50,133.40 L322.20,133.23 L322.90,133.10 L323.60,132.90 L324.30,132.36 L325.00,131.70 L325.70,130.79 L326.40,129.55 L327.10,128.75 L327.80,127.07 L328.50,125.21 L329.20,124.16 L329.90,122.29 L330.60,120.63 L331.30,118.81 L332.00,116.88 L332.70,115.44 L333.40,113.41 L334.10,111.86 L334.80,110.61 L335.50,108.89 L336.20,107.83 L336.90,106.66 L337.60,105.48 L338.30,104.74 L339.00,103.42 L339.70,101.87 L340.40,100.36 L341.10,98.29 L341.80,96.63 L342.50,94.75 L343.20,92.75 L343.90,90.39 L344.60,88.66 L345.30,86.64 L346.00,84.95 L346.70,83.18 L347.40,81.47 L348.10,79.57 L348.80,77.58 L349.50,75.09 L350.20,73.76 L350.90,71.95 L351.60,71.10 L352.30,70.02 L353.00,69.97 L353.70,71.30 L354.40,72.98 L355.10,74.85 L355.80,76.63 L356.50,78.70 L357.20,80.42 L357.90,82.35 L358.60,83.78 L359.30,85.41 L360.00,86.36 L360.70,87.58 L361.40,88.85 L362.10,89.77 L362.80,90.20 L363.50,90.80 L364.20,91.13 L364.90,91.39 L365.60,91.70 L366.30,92.00 L367.00,92.01 L367.70,92.33 L368.40,92.61 L369.10,92.41 L369.80,92.43 L370.50,92.27 L371.20,92.21 L371.90,92.20 L372.60,92.10 L373.30,92.04 L374.00,91.70 L374.70,91.44 L375.40,91.36 L376.10,91.11 L376.80,91.04 L377.50,91.03 L378.20,90.90 L378.90,90.61 L379.60,90.45 L380.30,90.28 L381.00,90.19 L381.70,90.19 L382.40,89.97 L383.10,90.10 L383.80,89.85 L384.50,89.63 L385.20,89.54 L385.90,89.25 L386.60,89.41 L387.30,89.29 L388.00,89.00 L388.70,88.97 L389.40,88.58 L390.10,88.29 L390.80,87.97 L391.50,87.62 L392.20,87.45 L392.90,87.09 L393.60,86.74 L394.30,86.14 L395.00,86.11 L395.70,85.73 L396.40,85.45 L397.10,85.26 L397.80,85.01 L398.50,84.70 L399.20,84.57 L399.90,84.48 L400.60,84.34 L401.30,84.28 L402.00,83.86 L402.70,84.03 L403.40,83.90 L404.10,83.77 L404.80,83.78 L405.50,83.34 L406.20,83.51 L406.90,83.50 L407.60,83.16 L408.30,83.33 L409.00,83.46 L409.70,83.20 L410.40,83.43 L411.10,83.46 L411.80,83.28 L412.50,83.19 L413.20,83.26 L413.90,83.55 L414.60,83.44 L415.30,83.45 L416.00,83.58 L416.70,83.86 L417.40,83.68 L418.10,83.68 L418.80,84.16 L419.50,84.01 L420.20,84.14 L420.90,84.47 L421.60,84.30 L422.30,84.32 L423.00,84.73 L423.70,84.56 L424.40,84.63 L425.10,84.98 L425.80,84.76 L426.50,85.09 L427.20,84.91 L427.90,84.95 L428.60,84.96 L429.30,85.13 L430.00,85.17 L430.70,85.15 L431.40,85.22 L432.10,85.17 L432.80,85.42 L433.50,85.50 L434.20,85.46 L434.90,85.52 L435.60,85.26 L436.30,85.37 L437.00,85.39 L437.70,85.40 L438.40,85.76 L439.10,85.77 L439.80,85.81 L440.50,85.71 L441.20,85.56 L441.90,85.72 L442.60,85.61 L443.30,85.98 L444.00,85.76 L444.70,85.80 L445.40,86.10 L446.10,85.84 L446.80,86.16" fill="none" stroke="#3d70ac" stroke-width="1.0"/>
<path d="M251.50,162.30 C253.75,162.28 260.25,162.27 265.00,162.20 C269.75,162.13 276.50,162.05 280.00,161.90 C283.50,161.75 284.33,161.52 286.00,161.30 C287.67,161.08 288.63,161.05 290.00,160.60 C291.37,160.15 292.87,159.62 294.20,158.60 C295.53,157.58 296.87,155.90 298.00,154.50 C299.13,153.10 300.00,151.70 301.00,150.20 C302.00,148.70 303.17,146.77 304.00,145.50 C304.83,144.23 305.25,143.68 306.00,142.60 C306.75,141.52 307.73,139.87 308.50,139.00 C309.27,138.13 309.85,137.48 310.60,137.40 C311.35,137.32 312.18,137.65 313.00,138.50 C313.82,139.35 314.70,141.12 315.50,142.50 C316.30,143.88 316.97,145.63 317.80,146.80 C318.63,147.97 319.52,148.90 320.50,149.50 C321.48,150.10 322.62,150.28 323.70,150.40 C324.78,150.52 325.95,150.37 327.00,150.20 C328.05,150.03 328.67,150.10 330.00,149.40 C331.33,148.70 333.33,147.18 335.00,146.00 C336.67,144.82 338.33,143.08 340.00,142.30 C341.67,141.52 343.33,141.60 345.00,141.30 C346.67,141.00 348.33,140.85 350.00,140.50 C351.67,140.15 353.33,139.73 355.00,139.20 C356.67,138.67 358.00,138.17 360.00,137.30 C362.00,136.43 364.50,135.25 367.00,134.00 C369.50,132.75 372.00,131.13 375.00,129.80 C378.00,128.47 382.17,127.05 385.00,126.00 C387.83,124.95 389.50,124.33 392.00,123.50 C394.50,122.67 397.00,121.70 400.00,121.00 C403.00,120.30 405.83,119.80 410.00,119.30 C414.17,118.80 420.83,118.38 425.00,118.00 C429.17,117.62 431.33,117.33 435.00,117.00 C438.67,116.67 445.00,116.17 447.00,116.00" fill="none" stroke="#b57ce6" stroke-width="1.2" stroke-linejoin="round" />
<line x1="312.2" y1="114.8" x2="312.2" y2="153" stroke="#222" stroke-width="1.05" stroke-dasharray="2.5,1.5"/>
<line x1="339.6" y1="102" x2="339.6" y2="148.5" stroke="#222" stroke-width="1.05" stroke-dasharray="2.5,1.5"/>
<line x1="408.3" y1="70" x2="408.3" y2="126.5" stroke="#8a8a8a" stroke-width="1.2" stroke-dasharray="3,2"/>
<text transform="translate(312.5,111) scale(1,1.07)" font-size="7.5" font-weight="bold" text-anchor="middle" fill="#111" stroke="#111" stroke-width="0.16" >285.0</text>
<text transform="translate(328.8,101) scale(1,1.07)" font-size="7.5" font-weight="bold" text-anchor="middle" fill="#111" stroke="#111" stroke-width="0.16" >287.3</text>
<text transform="translate(408.2,63.8) scale(1,1.07)" font-size="7.5" font-weight="bold" text-anchor="middle" fill="#111" stroke="#111" stroke-width="0.16" >292.8</text>
<line x1="482.5" y1="5.5" x2="482.5" y2="170.7" stroke="#555" stroke-width="1.1"/>
<line x1="482.0" y1="170.7" x2="679.5" y2="170.7" stroke="#7a7a7a" stroke-width="1.5"/>
<line x1="482.5" y1="5.5" x2="679.5" y2="5.5" stroke="#777" stroke-width="1.2"/>
<line x1="679.5" y1="5.5" x2="679.5" y2="170.7" stroke="#666" stroke-width="1.0"/>
<line x1="482.5" y1="170.7" x2="482.5" y2="173.7" stroke="#444" stroke-width="0.8" />
<line x1="502.2" y1="170.7" x2="502.2" y2="172.5" stroke="#444" stroke-width="0.8" />
<line x1="521.9" y1="170.7" x2="521.9" y2="173.7" stroke="#444" stroke-width="0.8" />
<line x1="541.6" y1="170.7" x2="541.6" y2="172.5" stroke="#444" stroke-width="0.8" />
<line x1="561.3" y1="170.7" x2="561.3" y2="173.7" stroke="#444" stroke-width="0.8" />
<line x1="581.0" y1="170.7" x2="581.0" y2="172.5" stroke="#444" stroke-width="0.8" />
<line x1="600.7" y1="170.7" x2="600.7" y2="173.7" stroke="#444" stroke-width="0.8" />
<line x1="620.4" y1="170.7" x2="620.4" y2="172.5" stroke="#444" stroke-width="0.8" />
<line x1="640.1" y1="170.7" x2="640.1" y2="173.7" stroke="#444" stroke-width="0.8" />
<line x1="659.8" y1="170.7" x2="659.8" y2="172.5" stroke="#444" stroke-width="0.8" />
<line x1="679.5" y1="170.7" x2="679.5" y2="173.7" stroke="#444" stroke-width="0.8" />
<text transform="translate(482.50,181) scale(1,1.07)" font-size="7" font-weight="normal" text-anchor="middle" fill="#222" stroke="#222" stroke-width="0.12" >344</text>
<text transform="translate(521.90,181) scale(1,1.07)" font-size="7" font-weight="normal" text-anchor="middle" fill="#222" stroke="#222" stroke-width="0.12" >342</text>
<text transform="translate(561.30,181) scale(1,1.07)" font-size="7" font-weight="normal" text-anchor="middle" fill="#222" stroke="#222" stroke-width="0.12" >340</text>
<text transform="translate(600.70,181) scale(1,1.07)" font-size="7" font-weight="normal" text-anchor="middle" fill="#222" stroke="#222" stroke-width="0.12" >338</text>
<text transform="translate(640.10,181) scale(1,1.07)" font-size="7" font-weight="normal" text-anchor="middle" fill="#222" stroke="#222" stroke-width="0.12" >336</text>
<text transform="translate(679.50,181) scale(1,1.07)" font-size="7" font-weight="normal" text-anchor="middle" fill="#222" stroke="#222" stroke-width="0.12" >334</text>
<text transform="translate(580.6,192) scale(1,1.07)" font-size="8.5" font-weight="bold" text-anchor="middle" fill="#111" stroke="#111" stroke-width="0.16" >Binding Energy (eV)</text>
<text transform="translate(478.0,88.5) rotate(-90)" x="0" y="0" font-size="8.5" font-weight="bold" text-anchor="middle" fill="#111" stroke="#111" stroke-width="0.16">Intensity (a.u.)</text>
<text x="472.6" y="10.0" font-size="11.3" font-weight="bold" fill="#111" stroke="#111" stroke-width="0.2">c</text>
<path d="M482.50,75.50 C483.75,75.42 487.08,75.29 490.00,75.00 C492.92,74.71 497.50,74.20 500.00,73.75 C502.50,73.30 503.33,72.94 505.00,72.30 C506.67,71.66 508.33,71.00 510.00,69.90 C511.67,68.80 513.33,67.32 515.00,65.70 C516.67,64.08 518.33,62.22 520.00,60.20 C521.67,58.18 523.33,55.80 525.00,53.60 C526.67,51.40 528.67,48.53 530.00,47.00 C531.33,45.47 532.08,45.00 533.00,44.40 C533.92,43.80 534.67,43.50 535.50,43.40 C536.33,43.30 537.08,43.40 538.00,43.80 C538.92,44.20 539.83,44.77 541.00,45.80 C542.17,46.83 543.50,48.00 545.00,50.00 C546.50,52.00 548.33,55.18 550.00,57.80 C551.67,60.42 553.33,63.28 555.00,65.70 C556.67,68.12 558.33,70.50 560.00,72.30 C561.67,74.10 563.33,75.35 565.00,76.50 C566.67,77.65 568.33,78.57 570.00,79.20 C571.67,79.83 573.33,80.07 575.00,80.30 C576.67,80.53 577.50,80.65 580.00,80.60 C582.50,80.55 586.67,80.52 590.00,80.00 C593.33,79.48 597.50,78.20 600.00,77.50 C602.50,76.80 603.33,76.47 605.00,75.80 C606.67,75.13 608.33,74.80 610.00,73.50 C611.67,72.20 613.33,70.18 615.00,68.00 C616.67,65.82 618.33,63.35 620.00,60.40 C621.67,57.45 623.33,53.80 625.00,50.30 C626.67,46.80 628.33,42.48 630.00,39.40 C631.67,36.32 633.67,33.62 635.00,31.80 C636.33,29.98 637.08,29.20 638.00,28.50 C638.92,27.80 639.67,27.58 640.50,27.60 C641.33,27.62 642.25,28.13 643.00,28.60 C643.75,29.07 643.83,28.75 645.00,30.40 C646.17,32.05 648.33,35.18 650.00,38.50 C651.67,41.82 653.33,46.37 655.00,50.30 C656.67,54.23 658.33,58.45 660.00,62.10 C661.67,65.75 663.33,69.40 665.00,72.20 C666.67,75.00 668.33,77.08 670.00,78.90 C671.67,80.72 673.42,81.95 675.00,83.10 C676.58,84.25 678.75,85.35 679.50,85.80" fill="none" stroke="#3d70ac" stroke-width="1.25" stroke-linejoin="round" />
<path d="M482.50,119.60 C483.75,119.43 487.92,118.90 490.00,118.60 C492.08,118.30 493.33,118.13 495.00,117.80 C496.67,117.47 498.33,117.10 500.00,116.60 C501.67,116.10 503.33,115.67 505.00,114.80 C506.67,113.93 508.33,113.10 510.00,111.40 C511.67,109.70 513.33,107.10 515.00,104.60 C516.67,102.10 518.33,99.12 520.00,96.40 C521.67,93.68 523.33,90.68 525.00,88.30 C526.67,85.92 528.58,83.37 530.00,82.10 C531.42,80.83 532.33,80.77 533.50,80.70 C534.67,80.63 535.92,80.95 537.00,81.70 C538.08,82.45 538.67,83.08 540.00,85.20 C541.33,87.32 543.33,91.17 545.00,94.40 C546.67,97.63 548.33,101.37 550.00,104.60 C551.67,107.83 553.33,111.42 555.00,113.80 C556.67,116.18 558.33,117.48 560.00,118.90 C561.67,120.32 563.33,121.42 565.00,122.30 C566.67,123.18 568.33,123.78 570.00,124.20 C571.67,124.62 573.17,124.73 575.00,124.80 C576.83,124.87 578.50,124.90 581.00,124.60 C583.50,124.30 586.83,123.52 590.00,123.00 C593.17,122.48 597.50,122.20 600.00,121.50 C602.50,120.80 603.33,120.15 605.00,118.80 C606.67,117.45 608.33,115.50 610.00,113.40 C611.67,111.30 613.33,109.05 615.00,106.20 C616.67,103.35 618.58,99.17 620.00,96.30 C621.42,93.43 622.33,91.63 623.50,89.00 C624.67,86.37 625.92,83.30 627.00,80.50 C628.08,77.70 628.83,74.77 630.00,72.20 C631.17,69.63 632.70,66.78 634.00,65.10 C635.30,63.42 636.47,61.90 637.80,62.10 C639.13,62.30 640.63,64.07 642.00,66.30 C643.37,68.53 644.67,72.00 646.00,75.50 C647.33,79.00 648.50,82.48 650.00,87.30 C651.50,92.12 653.33,99.45 655.00,104.40 C656.67,109.35 658.33,113.70 660.00,117.00 C661.67,120.30 663.33,122.40 665.00,124.20 C666.67,126.00 668.33,126.83 670.00,127.80 C671.67,128.77 673.42,129.40 675.00,130.00 C676.58,130.60 678.75,131.17 679.50,131.40" fill="none" stroke="#ee3535" stroke-width="1.25" stroke-linejoin="round" />
<path d="M482.50,150.30 C483.75,150.08 487.92,149.32 490.00,149.00 C492.08,148.68 493.33,148.65 495.00,148.40 C496.67,148.15 498.33,148.00 500.00,147.50 C501.67,147.00 503.33,146.28 505.00,145.40 C506.67,144.52 508.33,143.45 510.00,142.20 C511.67,140.95 513.33,139.57 515.00,137.90 C516.67,136.23 518.33,133.95 520.00,132.20 C521.67,130.45 523.33,128.73 525.00,127.40 C526.67,126.07 528.58,124.93 530.00,124.20 C531.42,123.47 532.33,123.13 533.50,123.00 C534.67,122.87 535.92,123.07 537.00,123.40 C538.08,123.73 538.67,123.93 540.00,125.00 C541.33,126.07 543.33,127.90 545.00,129.80 C546.67,131.70 548.33,134.10 550.00,136.40 C551.67,138.70 553.33,141.63 555.00,143.60 C556.67,145.57 558.33,146.93 560.00,148.20 C561.67,149.47 563.33,150.47 565.00,151.20 C566.67,151.93 567.50,152.17 570.00,152.60 C572.50,153.03 576.67,153.73 580.00,153.80 C583.33,153.87 586.67,153.42 590.00,153.00 C593.33,152.58 597.50,151.88 600.00,151.30 C602.50,150.72 603.33,150.40 605.00,149.50 C606.67,148.60 608.33,147.40 610.00,145.90 C611.67,144.40 613.33,142.77 615.00,140.50 C616.67,138.23 618.33,135.17 620.00,132.30 C621.67,129.43 623.33,126.00 625.00,123.30 C626.67,120.60 628.50,117.98 630.00,116.10 C631.50,114.22 632.75,112.95 634.00,112.00 C635.25,111.05 636.33,110.40 637.50,110.40 C638.67,110.40 639.75,110.90 641.00,112.00 C642.25,113.10 643.50,114.67 645.00,117.00 C646.50,119.33 648.33,122.83 650.00,126.00 C651.67,129.17 653.33,133.00 655.00,136.00 C656.67,139.00 658.33,141.75 660.00,144.00 C661.67,146.25 663.33,148.00 665.00,149.50 C666.67,151.00 668.33,152.05 670.00,153.00 C671.67,153.95 673.42,154.58 675.00,155.20 C676.58,155.82 678.75,156.45 679.50,156.70" fill="none" stroke="#4d4d4d" stroke-width="1.2" stroke-linejoin="round" />
<path d="M535.6,36 L535.6,62.5 L534,66.3 L533.5,137.3" fill="none" stroke="#444" stroke-width="0.9" stroke-dasharray="2.2,1.5"/>
<path d="M640.5,20 L640.5,45.2 L637.8,52.8 L637.6,130" fill="none" stroke="#444" stroke-width="0.9" stroke-dasharray="2.2,1.5"/>
<text transform="translate(535.6,29.5) scale(1,1.07)" font-size="7.5" font-weight="bold" text-anchor="middle" fill="#111" stroke="#111" stroke-width="0.16" >341.3</text>
<text transform="translate(640.6,17) scale(1,1.07)" font-size="7.5" font-weight="bold" text-anchor="middle" fill="#111" stroke="#111" stroke-width="0.16" >336.0</text>
<text transform="translate(531.9,149) scale(1,1.07)" font-size="7.5" font-weight="bold" text-anchor="middle" fill="#111" stroke="#111" stroke-width="0.16" >341.5</text>
<text transform="translate(637.5,141.7) scale(1,1.07)" font-size="7.5" font-weight="bold" text-anchor="middle" fill="#111" stroke="#111" stroke-width="0.16" >336.2</text>
<text transform="translate(566.2,74.3) scale(1,1.07)" font-size="7.6" font-weight="bold" text-anchor="start" fill="#111" stroke="#111" stroke-width="0.16" >5Pd-C/Fe-C</text>
<text transform="translate(566.3,118.7) scale(1,1.07)" font-size="7.6" font-weight="bold" text-anchor="start" fill="#111" stroke="#111" stroke-width="0.16" >5Pd/Fe-C</text>
<text transform="translate(566.8,148.5) scale(1,1.07)" font-size="7.6" font-weight="bold" text-anchor="start" fill="#111" stroke="#111" stroke-width="0.16" >5Pd/Fe</text>
<rect x="50" y="211.25" width="13.8" height="170.95" fill="#d0deee"/>
<rect x="142" y="211.25" width="13.6" height="170.95" fill="#d0deee"/>
<line x1="11.4" y1="211.25" x2="11.4" y2="382.2" stroke="#3a3a3a" stroke-width="1.2"/>
<line x1="10.9" y1="382.2" x2="209.4" y2="382.2" stroke="#333" stroke-width="1.3"/>
<line x1="11.4" y1="211.25" x2="209.4" y2="211.25" stroke="#888" stroke-width="1.1"/>
<line x1="209.4" y1="211.25" x2="209.4" y2="382.2" stroke="#333" stroke-width="1.1"/>
<line x1="209.4" y1="382.2" x2="209.4" y2="385.2" stroke="#444" stroke-width="0.8" />
<line x1="199.5" y1="382.2" x2="199.5" y2="384.0" stroke="#444" stroke-width="0.8" />
<line x1="189.6" y1="382.2" x2="189.6" y2="385.2" stroke="#444" stroke-width="0.8" />
<line x1="179.70000000000002" y1="382.2" x2="179.70000000000002" y2="384.0" stroke="#444" stroke-width="0.8" />
<line x1="169.8" y1="382.2" x2="169.8" y2="385.2" stroke="#444" stroke-width="0.8" />
<line x1="159.9" y1="382.2" x2="159.9" y2="384.0" stroke="#444" stroke-width="0.8" />
<line x1="150.0" y1="382.2" x2="150.0" y2="385.2" stroke="#444" stroke-width="0.8" />
<line x1="140.1" y1="382.2" x2="140.1" y2="384.0" stroke="#444" stroke-width="0.8" />
<line x1="130.2" y1="382.2" x2="130.2" y2="385.2" stroke="#444" stroke-width="0.8" />
<line x1="120.30000000000001" y1="382.2" x2="120.30000000000001" y2="384.0" stroke="#444" stroke-width="0.8" />
<line x1="110.4" y1="382.2" x2="110.4" y2="385.2" stroke="#444" stroke-width="0.8" />
<line x1="100.5" y1="382.2" x2="100.5" y2="384.0" stroke="#444" stroke-width="0.8" />
<line x1="90.60000000000001" y1="382.2" x2="90.60000000000001" y2="385.2" stroke="#444" stroke-width="0.8" />
<line x1="80.7" y1="382.2" x2="80.7" y2="384.0" stroke="#444" stroke-width="0.8" />
<line x1="70.8" y1="382.2" x2="70.8" y2="385.2" stroke="#444" stroke-width="0.8" />
<line x1="60.9" y1="382.2" x2="60.9" y2="384.0" stroke="#444" stroke-width="0.8" />
<line x1="51.0" y1="382.2" x2="51.0" y2="385.2" stroke="#444" stroke-width="0.8" />
<line x1="41.1" y1="382.2" x2="41.1" y2="384.0" stroke="#444" stroke-width="0.8" />
<line x1="31.200000000000003" y1="382.2" x2="31.200000000000003" y2="385.2" stroke="#444" stroke-width="0.8" />
<line x1="21.3" y1="382.2" x2="21.3" y2="384.0" stroke="#444" stroke-width="0.8" />
<line x1="11.4" y1="382.2" x2="11.4" y2="385.2" stroke="#444" stroke-width="0.8" />
<text transform="translate(11.40,393.4) scale(1,1.07)" font-size="7" font-weight="normal" text-anchor="middle" fill="#222" stroke="#222" stroke-width="0.12" >200</text>
<text transform="translate(31.20,393.4) scale(1,1.07)" font-size="7" font-weight="normal" text-anchor="middle" fill="#222" stroke="#222" stroke-width="0.12" >180</text>
<text transform="translate(51.00,393.4) scale(1,1.07)" font-size="7" font-weight="normal" text-anchor="middle" fill="#222" stroke="#222" stroke-width="0.12" >160</text>
<text transform="translate(70.80,393.4) scale(1,1.07)" font-size="7" font-weight="normal" text-anchor="middle" fill="#222" stroke="#222" stroke-width="0.12" >140</text>
<text transform="translate(90.60,393.4) scale(1,1.07)" font-size="7" font-weight="normal" text-anchor="middle" fill="#222" stroke="#222" stroke-width="0.12" >120</text>
<text transform="translate(110.40,393.4) scale(1,1.07)" font-size="7" font-weight="normal" text-anchor="middle" fill="#222" stroke="#222" stroke-width="0.12" >100</text>
<text transform="translate(130.20,393.4) scale(1,1.07)" font-size="7" font-weight="normal" text-anchor="middle" fill="#222" stroke="#222" stroke-width="0.12" >80</text>
<text transform="translate(150.00,393.4) scale(1,1.07)" font-size="7" font-weight="normal" text-anchor="middle" fill="#222" stroke="#222" stroke-width="0.12" >60</text>
<text transform="translate(169.80,393.4) scale(1,1.07)" font-size="7" font-weight="normal" text-anchor="middle" fill="#222" stroke="#222" stroke-width="0.12" >40</text>
<text transform="translate(189.60,393.4) scale(1,1.07)" font-size="7" font-weight="normal" text-anchor="middle" fill="#222" stroke="#222" stroke-width="0.12" >20</text>
<text transform="translate(209.40,393.4) scale(1,1.07)" font-size="7" font-weight="normal" text-anchor="middle" fill="#222" stroke="#222" stroke-width="0.12" >0</text>
<text x="50" y="411" font-size="8.5" font-weight="bold" fill="#111" stroke="#111" stroke-width="0.22"><tspan font-size="5.4" dy="-3.2">13</tspan><tspan dy="3.2">C Chemical Shift (ppm)</tspan></text>
<text x="0.6" y="217.5" font-size="11.3" font-weight="bold" fill="#111" stroke="#111" stroke-width="0.2">d</text>
<path d="M11.40,312.00 C12.00,312.08 13.57,312.92 15.00,312.50 C16.43,312.08 18.33,310.25 20.00,309.50 C21.67,308.75 23.33,308.75 25.00,308.00 C26.67,307.25 28.67,306.00 30.00,305.00 C31.33,304.00 32.17,302.80 33.00,302.00 C33.83,301.20 34.17,300.67 35.00,300.20 C35.83,299.73 37.17,299.32 38.00,299.20 C38.83,299.08 39.17,299.70 40.00,299.50 C40.83,299.30 42.17,298.53 43.00,298.00 C43.83,297.47 43.83,297.80 45.00,296.30 C46.17,294.80 48.33,291.50 50.00,289.00 C51.67,286.50 53.67,283.13 55.00,281.30 C56.33,279.47 57.00,278.28 58.00,278.00 C59.00,277.72 59.83,278.87 61.00,279.60 C62.17,280.33 63.67,282.50 65.00,282.40 C66.33,282.30 67.83,280.02 69.00,279.00 C70.17,277.98 71.00,277.20 72.00,276.30 C73.00,275.40 74.00,274.23 75.00,273.60 C76.00,272.97 77.00,272.43 78.00,272.50 C79.00,272.57 79.83,273.25 81.00,274.00 C82.17,274.75 83.50,276.40 85.00,277.00 C86.50,277.60 88.67,277.55 90.00,277.60 C91.33,277.65 92.00,277.52 93.00,277.30 C94.00,277.08 95.00,276.05 96.00,276.30 C97.00,276.55 98.00,277.67 99.00,278.80 C100.00,279.93 101.00,281.72 102.00,283.10 C103.00,284.48 104.00,286.10 105.00,287.10 C106.00,288.10 107.00,288.33 108.00,289.10 C109.00,289.87 110.00,290.18 111.00,291.70 C112.00,293.22 113.00,296.15 114.00,298.20 C115.00,300.25 116.00,302.62 117.00,304.00 C118.00,305.38 118.83,306.18 120.00,306.50 C121.17,306.82 122.67,306.20 124.00,305.90 C125.33,305.60 126.67,304.77 128.00,304.70 C129.33,304.63 130.67,304.78 132.00,305.50 C133.33,306.22 134.67,307.63 136.00,309.00 C137.33,310.37 139.00,312.73 140.00,313.70 C141.00,314.67 141.17,315.22 142.00,314.80 C142.83,314.38 143.92,312.72 145.00,311.20 C146.08,309.68 147.33,306.10 148.50,305.70 C149.67,305.30 150.58,307.03 152.00,308.80 C153.42,310.57 155.67,314.83 157.00,316.30 C158.33,317.77 159.00,317.27 160.00,317.60 C161.00,317.93 161.67,317.15 163.00,318.30 C164.33,319.45 166.58,322.88 168.00,324.50 C169.42,326.12 170.12,327.98 171.50,328.00 C172.88,328.02 174.55,325.47 176.30,324.60 C178.05,323.73 180.05,322.52 182.00,322.80 C183.95,323.08 186.17,325.02 188.00,326.30 C189.83,327.58 191.33,330.72 193.00,330.50 C194.67,330.28 196.33,326.67 198.00,325.00 C199.67,323.33 201.10,320.37 203.00,320.50 C204.90,320.63 208.33,324.92 209.40,325.80" fill="none" stroke="#3d70ac" stroke-width="1.6" stroke-linejoin="round" />
<path d="M11.40,366.30 C12.00,365.67 13.90,363.88 15.00,362.50 C16.10,361.12 16.83,358.33 18.00,358.00 C19.17,357.67 20.67,360.17 22.00,360.50 C23.33,360.83 24.83,360.58 26.00,360.00 C27.17,359.42 28.00,357.92 29.00,357.00 C30.00,356.08 30.83,355.12 32.00,354.50 C33.17,353.88 34.67,353.55 36.00,353.30 C37.33,353.05 38.67,353.22 40.00,353.00 C41.33,352.78 42.67,352.92 44.00,352.00 C45.33,351.08 46.67,349.28 48.00,347.50 C49.33,345.72 50.83,342.47 52.00,341.30 C53.17,340.13 54.00,340.72 55.00,340.50 C56.00,340.28 56.83,340.58 58.00,340.00 C59.17,339.42 60.83,337.92 62.00,337.00 C63.17,336.08 64.00,335.25 65.00,334.50 C66.00,333.75 66.83,333.67 68.00,332.50 C69.17,331.33 70.50,329.17 72.00,327.50 C73.50,325.83 75.67,322.92 77.00,322.50 C78.33,322.08 79.00,323.75 80.00,325.00 C81.00,326.25 82.00,328.53 83.00,330.00 C84.00,331.47 84.83,333.67 86.00,333.80 C87.17,333.93 88.50,331.70 90.00,330.80 C91.50,329.90 93.33,328.02 95.00,328.40 C96.67,328.78 98.33,331.42 100.00,333.10 C101.67,334.78 103.33,337.42 105.00,338.50 C106.67,339.58 108.33,338.98 110.00,339.60 C111.67,340.22 113.33,341.18 115.00,342.20 C116.67,343.22 118.33,345.28 120.00,345.70 C121.67,346.12 123.33,344.63 125.00,344.70 C126.67,344.77 128.33,345.02 130.00,346.10 C131.67,347.18 133.33,349.75 135.00,351.20 C136.67,352.65 138.33,353.48 140.00,354.80 C141.67,356.12 143.58,357.90 145.00,359.10 C146.42,360.30 147.17,362.27 148.50,362.00 C149.83,361.73 151.58,358.67 153.00,357.50 C154.42,356.33 155.50,354.58 157.00,355.00 C158.50,355.42 160.67,358.95 162.00,360.00 C163.33,361.05 163.67,362.33 165.00,361.30 C166.33,360.27 168.50,355.27 170.00,353.80 C171.50,352.33 172.67,351.55 174.00,352.50 C175.33,353.45 176.50,357.62 178.00,359.50 C179.50,361.38 181.33,363.42 183.00,363.80 C184.67,364.18 186.33,361.88 188.00,361.80 C189.67,361.72 191.33,362.85 193.00,363.30 C194.67,363.75 196.33,364.63 198.00,364.50 C199.67,364.37 201.10,362.92 203.00,362.50 C204.90,362.08 208.33,362.08 209.40,362.00" fill="none" stroke="#525252" stroke-width="1.4" stroke-linejoin="round" />
<line x1="58.7" y1="272.5" x2="58.7" y2="341.3" stroke="#222" stroke-width="1.05" stroke-dasharray="2.5,1.5"/>
<line x1="78" y1="261.3" x2="78" y2="331.3" stroke="#777" stroke-width="1.05" stroke-dasharray="2.5,1.5"/>
<line x1="96.2" y1="267.5" x2="96.2" y2="336.3" stroke="#222" stroke-width="1.05" stroke-dasharray="2.5,1.5"/>
<line x1="148.8" y1="295" x2="148.8" y2="363.8" stroke="#222" stroke-width="1.05" stroke-dasharray="2.5,1.5"/>
<text transform="translate(58.4,268) scale(1,1.07)" font-size="7.5" font-weight="bold" text-anchor="middle" fill="#111" stroke="#111" stroke-width="0.16" >152</text>
<text transform="translate(78.5,259.3) scale(1,1.07)" font-size="7.5" font-weight="bold" text-anchor="middle" fill="#111" stroke="#111" stroke-width="0.16" >134</text>
<text transform="translate(96.5,265) scale(1,1.07)" font-size="7.5" font-weight="bold" text-anchor="middle" fill="#111" stroke="#111" stroke-width="0.16" >116</text>
<text transform="translate(149.4,293) scale(1,1.07)" font-size="7.5" font-weight="bold" text-anchor="middle" fill="#111" stroke="#111" stroke-width="0.16" >62</text>
<text x="101.3" y="323" font-size="7.6" font-weight="bold" fill="#111" stroke="#111" stroke-width="0.22">Pd-<tspan font-size="4.8" dy="-2.6">13</tspan><tspan dy="2.6">C/CNT</tspan></text>
<text transform="translate(108.5,361.8) scale(1,1.07)" font-size="7.6" font-weight="bold" text-anchor="start" fill="#111" stroke="#111" stroke-width="0.16" >Pd/CNT</text>
<line x1="250.4" y1="211.85" x2="250.4" y2="348.3" stroke="#333" stroke-width="1.3"/>
<line x1="249.9" y1="348.3" x2="679.3" y2="348.3" stroke="#333" stroke-width="1.5"/>
<line x1="250.4" y1="211.85" x2="679.3" y2="211.85" stroke="#808080" stroke-width="1.5"/>
<line x1="679.3" y1="211.85" x2="679.3" y2="348.3" stroke="#444" stroke-width="1.1"/>
<line x1="247.9" y1="348.90999999999997" x2="250.4" y2="348.90999999999997" stroke="#444" stroke-width="0.8" />
<text transform="translate(243.8,351.61) scale(1,1.07)" font-size="7.5" font-weight="bold" text-anchor="end" fill="#222" stroke="#222" stroke-width="0.16" >0</text>
<line x1="247.9" y1="329.38" x2="250.4" y2="329.38" stroke="#444" stroke-width="0.8" />
<text transform="translate(243.8,332.08) scale(1,1.07)" font-size="7.5" font-weight="bold" text-anchor="end" fill="#222" stroke="#222" stroke-width="0.16" >50</text>
<line x1="247.9" y1="309.85" x2="250.4" y2="309.85" stroke="#444" stroke-width="0.8" />
<text transform="translate(243.8,312.55) scale(1,1.07)" font-size="7.5" font-weight="bold" text-anchor="end" fill="#222" stroke="#222" stroke-width="0.16" >100</text>
<line x1="247.9" y1="290.32" x2="250.4" y2="290.32" stroke="#444" stroke-width="0.8" />
<text transform="translate(243.8,293.02) scale(1,1.07)" font-size="7.5" font-weight="bold" text-anchor="end" fill="#222" stroke="#222" stroke-width="0.16" >150</text>
<line x1="247.9" y1="270.78999999999996" x2="250.4" y2="270.78999999999996" stroke="#444" stroke-width="0.8" />
<text transform="translate(243.8,273.49) scale(1,1.07)" font-size="7.5" font-weight="bold" text-anchor="end" fill="#222" stroke="#222" stroke-width="0.16" >200</text>
<line x1="247.9" y1="251.26" x2="250.4" y2="251.26" stroke="#444" stroke-width="0.8" />
<text transform="translate(243.8,253.96) scale(1,1.07)" font-size="7.5" font-weight="bold" text-anchor="end" fill="#222" stroke="#222" stroke-width="0.16" >250</text>
<line x1="247.9" y1="231.73" x2="250.4" y2="231.73" stroke="#444" stroke-width="0.8" />
<text transform="translate(243.8,234.43) scale(1,1.07)" font-size="7.5" font-weight="bold" text-anchor="end" fill="#222" stroke="#222" stroke-width="0.16" >300</text>
<line x1="247.9" y1="212.2" x2="250.4" y2="212.2" stroke="#444" stroke-width="0.8" />
<text transform="translate(243.8,214.90) scale(1,1.07)" font-size="7.5" font-weight="bold" text-anchor="end" fill="#222" stroke="#222" stroke-width="0.16" >350</text>
<text transform="translate(228.3,299) rotate(-90)" x="0" y="0" font-size="8.5" font-weight="bold" text-anchor="middle" fill="#111" stroke="#111" stroke-width="0.16"><tspan>Calculated </tspan><tspan font-size="5.4" dy="-3.2">13</tspan><tspan dy="3.2">C Chemical Shift (ppm)</tspan></text>
<text x="220.7" y="217.5" font-size="11.3" font-weight="bold" fill="#111" stroke="#111" stroke-width="0.2">e</text>
<defs>
<linearGradient id="rg" x1="0" y1="0" x2="0" y2="1"><stop offset="0" stop-color="#ff7a7a"/><stop offset="1" stop-color="#d40f0f"/></linearGradient>
<radialGradient id="sph" cx="0.45" cy="0.4" r="0.65"><stop offset="0" stop-color="#5a89b8"/><stop offset="0.7" stop-color="#4a78a6"/><stop offset="1" stop-color="#335c86"/></radialGradient>
<radialGradient id="gC" cx="0.4" cy="0.35" r="0.7"><stop offset="0" stop-color="#909090"/><stop offset="1" stop-color="#454545"/></radialGradient>
<radialGradient id="gH" cx="0.4" cy="0.38" r="0.7"><stop offset="0" stop-color="#ffffff"/><stop offset="0.7" stop-color="#f0f0f0"/><stop offset="1" stop-color="#a8a8a8"/></radialGradient>
</defs>
<line x1="251.2" y1="288.8" x2="679" y2="288.8" stroke="#3b6fc0" stroke-width="1.9" stroke-dasharray="12,4.45"/>
<rect x="271.3" y="295.25" width="12.9" height="53.05000000000001" fill="#2c5ea8"/>
<rect x="287.90000000000003" y="325.8" width="12.9" height="22.5" fill="url(#rg)"/>
<rect x="343.3" y="307" width="12.9" height="41.30000000000001" fill="#2c5ea8"/>
<rect x="359.90000000000003" y="329" width="12.9" height="19.30000000000001" fill="url(#rg)"/>
<rect x="414.4" y="312.1" width="12.9" height="36.19999999999999" fill="#2c5ea8"/>
<rect x="431.0" y="339.9" width="12.9" height="8.400000000000034" fill="url(#rg)"/>
<rect x="502.20000000000005" y="331.3" width="12.9" height="17.0" fill="url(#rg)"/>
<rect x="557.4" y="244.6" width="12.9" height="103.70000000000002" fill="#2c5ea8"/>
<rect x="574.0" y="329" width="12.9" height="19.30000000000001" fill="url(#rg)"/>
<rect x="629.1" y="238.2" width="12.9" height="110.10000000000002" fill="#2c5ea8"/>
<line x1="251.2" y1="324.1" x2="679" y2="324.1" stroke="#b8245a" stroke-width="1.9" stroke-dasharray="12,4.45"/>
<line x1="249.8" y1="348.3" x2="679.3" y2="348.3" stroke="#333" stroke-width="1.5" />
<text transform="translate(643.6,285.6) scale(1,1.07)" font-size="8.3" font-weight="bold" text-anchor="start" fill="#111" stroke="#111" stroke-width="0.16" >152 ppm</text>
<text transform="translate(644.0,320.2) scale(1,1.07)" font-size="8.3" font-weight="bold" text-anchor="start" fill="#111" stroke="#111" stroke-width="0.16" >62 ppm</text>
<text transform="translate(286.2,362.0) scale(1,1.07)" font-size="8.5" font-weight="bold" text-anchor="middle" fill="#111" stroke="#111" stroke-width="0.16" >Cycle-Ene</text>
<text transform="translate(357,362.0) scale(1,1.07)" font-size="8.5" font-weight="bold" text-anchor="middle" fill="#111" stroke="#111" stroke-width="0.16" >π-Ene</text>
<text transform="translate(429.4,362.0) scale(1,1.07)" font-size="8.5" font-weight="bold" text-anchor="middle" fill="#111" stroke="#111" stroke-width="0.16" >δ-Ene</text>
<text transform="translate(500.6,362.0) scale(1,1.07)" font-size="8.5" font-weight="bold" text-anchor="middle" fill="#111" stroke="#111" stroke-width="0.16" >δ-linear</text>
<text transform="translate(571.5,362.0) scale(1,1.07)" font-size="8.5" font-weight="bold" text-anchor="middle" fill="#111" stroke="#111" stroke-width="0.16" >δ-bridge</text>
<text transform="translate(643.6,362.0) scale(1,1.07)" font-size="8.5" font-weight="bold" text-anchor="middle" fill="#111" stroke="#111" stroke-width="0.16" >Carbene</text>
<text transform="translate(271.3,225.5) rotate(40)" font-size="6.5" font-weight="bold" fill="#111" stroke="#111" stroke-width="0.15">H</text>
<text x="275.4" y="229.6" font-size="7.3" font-weight="bold" fill="#3a78c8" stroke="#3a78c8" stroke-width="0.18" text-anchor="start" >C</text>
<line x1="282.5" y1="227.1" x2="290.8" y2="227.1" stroke="#888" stroke-width="0.7"/>
<line x1="282.5" y1="228.6" x2="290.8" y2="228.6" stroke="#888" stroke-width="0.7"/>
<text x="291.0" y="229.6" font-size="7.3" font-weight="bold" fill="#3a78c8" stroke="#3a78c8" stroke-width="0.18" text-anchor="start" >C</text>
<text transform="translate(296.3,226.5) rotate(-40)" font-size="6.5" font-weight="bold" fill="#111" stroke="#111" stroke-width="0.15">H</text>
<line x1="278" y1="231" x2="275.5" y2="238" stroke="#444" stroke-width="0.6"/>
<line x1="294.4" y1="231" x2="297.6" y2="238" stroke="#444" stroke-width="0.6"/>
<text x="262.3" y="244.2" font-size="7.3" font-weight="bold" fill="#111" stroke="#111" stroke-width="0.18" text-anchor="start" >H</text>
<text x="267.3" y="245.3" font-size="5.0" font-weight="bold" fill="#111" stroke="#111" stroke-width="0.12">3</text>
<text x="270.6" y="244.2" font-size="7.3" font-weight="bold" fill="#d81818" stroke="#d81818" stroke-width="0.18" text-anchor="start" >C</text>
<text x="296.2" y="244.2" font-size="7.3" font-weight="bold" fill="#d81818" stroke="#d81818" stroke-width="0.18" text-anchor="start" >C</text>
<text x="301.3" y="244.2" font-size="7.3" font-weight="bold" fill="#111" stroke="#111" stroke-width="0.18" text-anchor="start" >H</text>
<text x="306.5" y="245.5" font-size="5.0" font-weight="bold" fill="#111" stroke="#111" stroke-width="0.12">2</text>
<line x1="276.2" y1="245.2" x2="282" y2="251" stroke="#444" stroke-width="0.6"/>
<line x1="297" y1="245.2" x2="291.1" y2="251" stroke="#444" stroke-width="0.6"/>
<text x="281.2" y="255.6" font-size="7.3" font-weight="bold" fill="#111" stroke="#111" stroke-width="0.18" text-anchor="start" >Pd</text>
<line x1="282" y1="255.3" x2="273.6" y2="258.8" stroke="#444" stroke-width="0.6"/>
<line x1="291.1" y1="255.3" x2="298.3" y2="258.8" stroke="#444" stroke-width="0.6"/>
<text x="265" y="264" font-size="7.3" font-weight="bold" fill="#111" stroke="#111" stroke-width="0.18" text-anchor="start" >Pd</text>
<text x="299.2" y="264" font-size="7.3" font-weight="bold" fill="#111" stroke="#111" stroke-width="0.18" text-anchor="start" >Pd</text>
<text x="354.9" y="219.8" font-size="7.0" font-weight="bold" fill="#111" stroke="#111" stroke-width="0.18" text-anchor="start" >H</text>
<text x="359.9" y="221.0" font-size="5.0" font-weight="bold" fill="#111" stroke="#111" stroke-width="0.12">2</text>
<text x="354.6" y="226.6" font-size="7.3" font-weight="bold" fill="#d81818" stroke="#d81818" stroke-width="0.18" text-anchor="start" >C</text>
<line x1="353" y1="225.3" x2="348.1" y2="228.8" stroke="#444" stroke-width="0.6"/>
<line x1="362.2" y1="225.3" x2="368.9" y2="228.8" stroke="#444" stroke-width="0.6"/>
<text x="335.5" y="233.1" font-size="7.3" font-weight="bold" fill="#111" stroke="#111" stroke-width="0.18" text-anchor="start" >H</text>
<text x="340.4" y="233.1" font-size="7.3" font-weight="bold" fill="#3a78c8" stroke="#3a78c8" stroke-width="0.18" text-anchor="start" >C</text>
<text x="369.6" y="233.1" font-size="7.3" font-weight="bold" fill="#3a78c8" stroke="#3a78c8" stroke-width="0.18" text-anchor="start" >C</text>
<text x="374.7" y="233.1" font-size="7.3" font-weight="bold" fill="#111" stroke="#111" stroke-width="0.18" text-anchor="start" >H</text>
<line x1="344.3" y1="234.41" x2="348.90000000000003" y2="239.41" stroke="#808080" stroke-width="0.5"/>
<line x1="371.5" y1="234.41" x2="366.9" y2="239.41" stroke="#808080" stroke-width="0.5"/>
<line x1="345.2" y1="233.6" x2="349.8" y2="238.6" stroke="#808080" stroke-width="0.5"/>
<line x1="370.6" y1="233.6" x2="366.0" y2="238.6" stroke="#808080" stroke-width="0.5"/>
<line x1="346.09999999999997" y1="232.79" x2="350.7" y2="237.79" stroke="#808080" stroke-width="0.5"/>
<line x1="369.70000000000005" y1="232.79" x2="365.1" y2="237.79" stroke="#808080" stroke-width="0.5"/>
<text x="343.2" y="244" font-size="7.3" font-weight="bold" fill="#111" stroke="#111" stroke-width="0.18" text-anchor="start" >H</text>
<text x="348.2" y="244" font-size="7.3" font-weight="bold" fill="#3a78c8" stroke="#3a78c8" stroke-width="0.18" text-anchor="start" >C</text>
<text x="361.4" y="244" font-size="7.3" font-weight="bold" fill="#3a78c8" stroke="#3a78c8" stroke-width="0.18" text-anchor="start" >C</text>
<text x="366.5" y="244" font-size="7.3" font-weight="bold" fill="#111" stroke="#111" stroke-width="0.18" text-anchor="start" >H</text>
<line x1="353.7" y1="241.2" x2="361.5" y2="241.2" stroke="#444" stroke-width="0.6"/>
<line x1="357.4" y1="235.3" x2="357.4" y2="247" stroke="#444" stroke-width="0.6"/>
<text x="352.8" y="255.2" font-size="7.3" font-weight="bold" fill="#111" stroke="#111" stroke-width="0.18" text-anchor="start" >Pd</text>
<line x1="353.2" y1="254.5" x2="344.5" y2="258.5" stroke="#444" stroke-width="0.6"/>
<line x1="362" y1="254.5" x2="370" y2="258.5" stroke="#444" stroke-width="0.6"/>
<text x="335.5" y="263.4" font-size="7.3" font-weight="bold" fill="#111" stroke="#111" stroke-width="0.18" text-anchor="start" >Pd</text>
<text x="370" y="263.4" font-size="7.3" font-weight="bold" fill="#111" stroke="#111" stroke-width="0.18" text-anchor="start" >Pd</text>
<text x="402.3" y="235.2" font-size="7.3" font-weight="bold" fill="#111" stroke="#111" stroke-width="0.18" text-anchor="start" >H</text>
<text x="407.3" y="236.3" font-size="5.0" font-weight="bold" fill="#111" stroke="#111" stroke-width="0.12">3</text>
<text x="409.8" y="235.2" font-size="7.3" font-weight="bold" fill="#d81818" stroke="#d81818" stroke-width="0.18" text-anchor="start" >C</text>
<text x="414.6" y="235.2" font-size="7.3" font-weight="bold" fill="#111" stroke="#111" stroke-width="0.18" text-anchor="start" >H</text>
<text x="419.6" y="235.2" font-size="7.3" font-weight="bold" fill="#3a78c8" stroke="#3a78c8" stroke-width="0.18" text-anchor="start" >C</text>
<line x1="425.7" y1="231.5" x2="434.6" y2="231.5" stroke="#888" stroke-width="0.7"/>
<line x1="425.7" y1="233.3" x2="434.6" y2="233.3" stroke="#888" stroke-width="0.7"/>
<text x="434.6" y="235.2" font-size="7.3" font-weight="bold" fill="#3a78c8" stroke="#3a78c8" stroke-width="0.18" text-anchor="start" >C</text>
<text x="439.6" y="235.2" font-size="7.3" font-weight="bold" fill="#111" stroke="#111" stroke-width="0.18" text-anchor="start" >H</text>
<text x="444.8" y="235.2" font-size="7.3" font-weight="bold" fill="#d81818" stroke="#d81818" stroke-width="0.18" text-anchor="start" >C</text>
<text x="450.1" y="235.2" font-size="7.3" font-weight="bold" fill="#111" stroke="#111" stroke-width="0.18" text-anchor="start" >H</text>
<text x="455.2" y="236.3" font-size="5.0" font-weight="bold" fill="#111" stroke="#111" stroke-width="0.12">3</text>
<line x1="423" y1="236" x2="420.9" y2="242.5" stroke="#444" stroke-width="0.6"/>
<line x1="438.8" y1="236" x2="440.6" y2="242.5" stroke="#444" stroke-width="0.6"/>
<text x="415.4" y="248.5" font-size="7.3" font-weight="bold" fill="#111" stroke="#111" stroke-width="0.18" text-anchor="start" >Pd</text>
<line x1="424.8" y1="245.7" x2="436.8" y2="245.7" stroke="#444" stroke-width="0.6"/>
<text x="436.8" y="248.5" font-size="7.3" font-weight="bold" fill="#111" stroke="#111" stroke-width="0.18" text-anchor="start" >Pd</text>
<text transform="translate(483.6,220.6) rotate(42)" font-size="6.9" font-weight="bold" fill="#111" stroke="#111" stroke-width="0.2">H<tspan font-size="4.8" dy="1">2</tspan></text>
<text x="490.7" y="228.2" font-size="7.3" font-weight="bold" fill="#d81818" stroke="#d81818" stroke-width="0.18" text-anchor="start" >C</text>
<line x1="496.4" y1="225.8" x2="505.2" y2="225.8" stroke="#444" stroke-width="0.6"/>
<text x="505.4" y="228.2" font-size="7.3" font-weight="bold" fill="#d81818" stroke="#d81818" stroke-width="0.18" text-anchor="start" >C</text>
<text transform="translate(511.4,226) rotate(-42)" font-size="6.9" font-weight="bold" fill="#111" stroke="#111" stroke-width="0.2">H<tspan font-size="4.8" dy="1">2</tspan></text>
<line x1="492.4" y1="229" x2="488.8" y2="237" stroke="#444" stroke-width="0.6"/>
<line x1="509.5" y1="229" x2="513.2" y2="237" stroke="#444" stroke-width="0.6"/>
<text x="476.6" y="242.8" font-size="7.3" font-weight="bold" fill="#111" stroke="#111" stroke-width="0.18" text-anchor="start" >H</text>
<text x="481.6" y="243.9" font-size="5.0" font-weight="bold" fill="#111" stroke="#111" stroke-width="0.12">2</text>
<text x="485" y="242.8" font-size="7.3" font-weight="bold" fill="#d81818" stroke="#d81818" stroke-width="0.18" text-anchor="start" >C</text>
<text x="510.4" y="242.8" font-size="7.3" font-weight="bold" fill="#d81818" stroke="#d81818" stroke-width="0.18" text-anchor="start" >C</text>
<text x="515.4" y="242.8" font-size="7.3" font-weight="bold" fill="#111" stroke="#111" stroke-width="0.18" text-anchor="start" >H</text>
<text x="520.5" y="244" font-size="5.0" font-weight="bold" fill="#111" stroke="#111" stroke-width="0.12">2</text>
<line x1="490" y1="243.5" x2="496" y2="249" stroke="#444" stroke-width="0.6"/>
<line x1="512" y1="243.5" x2="505.5" y2="249" stroke="#444" stroke-width="0.6"/>
<text x="495.8" y="254.4" font-size="7.3" font-weight="bold" fill="#111" stroke="#111" stroke-width="0.18" text-anchor="start" >Pd</text>
<line x1="496.5" y1="253.5" x2="488" y2="257.5" stroke="#444" stroke-width="0.6"/>
<line x1="505" y1="253.5" x2="513.5" y2="257.5" stroke="#444" stroke-width="0.6"/>
<text x="478.8" y="262.4" font-size="7.3" font-weight="bold" fill="#111" stroke="#111" stroke-width="0.18" text-anchor="start" >Pd</text>
<text x="513.4" y="262.4" font-size="7.3" font-weight="bold" fill="#111" stroke="#111" stroke-width="0.18" text-anchor="start" >Pd</text>
<text x="536.8" y="225.1" font-size="7.3" font-weight="bold" fill="#111" stroke="#111" stroke-width="0.18" text-anchor="start" >H</text>
<text x="541.8" y="226.2" font-size="5.0" font-weight="bold" fill="#111" stroke="#111" stroke-width="0.12">3</text>
<text x="544.3" y="225.1" font-size="7.3" font-weight="bold" fill="#d81818" stroke="#d81818" stroke-width="0.18" text-anchor="start" >C</text>
<text x="572.4" y="225.1" font-size="7.3" font-weight="bold" fill="#d81818" stroke="#d81818" stroke-width="0.18" text-anchor="start" >C</text>
<text x="577.5" y="225.1" font-size="7.3" font-weight="bold" fill="#111" stroke="#111" stroke-width="0.18" text-anchor="start" >H</text>
<line x1="550.2" y1="222.5" x2="558.2" y2="228.5" stroke="#444" stroke-width="0.6"/>
<line x1="565" y1="228.5" x2="572" y2="222.5" stroke="#444" stroke-width="0.6"/>
<text x="558.6" y="233" font-size="7.3" font-weight="bold" fill="#3a78c8" stroke="#3a78c8" stroke-width="0.18" text-anchor="start" >C</text>
<line x1="558" y1="233" x2="551" y2="237.5" stroke="#444" stroke-width="0.6"/>
<line x1="565" y1="233" x2="572.5" y2="237.5" stroke="#444" stroke-width="0.6"/>
<text x="541.8" y="241.2" font-size="7.3" font-weight="bold" fill="#111" stroke="#111" stroke-width="0.18" text-anchor="start" >Pd</text>
<text x="572.9" y="241.2" font-size="7.3" font-weight="bold" fill="#111" stroke="#111" stroke-width="0.18" text-anchor="start" >Pd</text>
<text x="588.8" y="225.2" font-size="6.8" font-weight="bold" fill="#111" stroke="#111" stroke-width="0.18" text-anchor="start" >H</text>
<text x="619.8" y="225.2" font-size="6.8" font-weight="bold" fill="#111" stroke="#111" stroke-width="0.18" text-anchor="start" >H</text>
<line x1="594.5" y1="222.8" x2="603" y2="228.5" stroke="#444" stroke-width="0.6"/>
<line x1="609" y1="228.5" x2="618.8" y2="222.8" stroke="#444" stroke-width="0.6"/>
<text x="603.1" y="233" font-size="7.3" font-weight="bold" fill="#3a78c8" stroke="#3a78c8" stroke-width="0.18" text-anchor="start" >C</text>
<circle cx="604.6" cy="236" r="0.6" fill="#222"/><circle cx="607.4" cy="236" r="0.6" fill="#222"/>
<text x="601.3" y="246" font-size="7.3" font-weight="bold" fill="#111" stroke="#111" stroke-width="0.18" text-anchor="start" >Pd</text>
<line x1="602" y1="245.5" x2="594" y2="249.5" stroke="#444" stroke-width="0.6"/>
<line x1="610.5" y1="245.5" x2="618.6" y2="249.5" stroke="#444" stroke-width="0.6"/>
<text x="584.4" y="254.4" font-size="7.3" font-weight="bold" fill="#111" stroke="#111" stroke-width="0.18" text-anchor="start" >Pd</text>
<text x="618.6" y="254.4" font-size="7.3" font-weight="bold" fill="#111" stroke="#111" stroke-width="0.18" text-anchor="start" >Pd</text>
<rect x="250.9" y="365.6" width="69.2" height="50" fill="none" stroke="#3ad23a" stroke-width="1.5"/>
<rect x="323.3" y="365.2" width="356.2" height="49.4" fill="none" stroke="#777" stroke-width="1.5"/>
<clipPath id="cb"><rect x="251" y="366" width="428" height="48.7"/></clipPath>
<g clip-path="url(#cb)">
<clipPath id="cl285"><rect x="262.5" y="360" width="46.4" height="60"/></clipPath><g clip-path="url(#cl285)"><path d="M266.7,397 L273.7,385.9 L280.7,382.7 L290.7,382.7 L297.7,385.9 L304.7,397 L304.7,414.6 L266.7,414.6 Z" fill="#3a6490"/><circle cx="285.7" cy="380.7" r="6.2" fill="url(#sph)" stroke="#284868" stroke-width="0.55"/><circle cx="275.7" cy="384.9" r="6.2" fill="url(#sph)" stroke="#284868" stroke-width="0.55"/><circle cx="295.7" cy="384.9" r="6.2" fill="url(#sph)" stroke="#284868" stroke-width="0.55"/><circle cx="267.5" cy="394.6" r="6.2" fill="url(#sph)" stroke="#284868" stroke-width="0.55"/><circle cx="303.9" cy="394.6" r="6.2" fill="url(#sph)" stroke="#284868" stroke-width="0.55"/><circle cx="267.5" cy="407.6" r="6.2" fill="url(#sph)" stroke="#284868" stroke-width="0.55"/><circle cx="303.9" cy="407.6" r="6.2" fill="url(#sph)" stroke="#284868" stroke-width="0.55"/><circle cx="275.9" cy="398.2" r="6.2" fill="url(#sph)" stroke="#284868" stroke-width="0.55"/><circle cx="295.5" cy="398.2" r="6.2" fill="url(#sph)" stroke="#284868" stroke-width="0.55"/><circle cx="276.1" cy="411.0" r="6.2" fill="url(#sph)" stroke="#284868" stroke-width="0.55"/><circle cx="295.3" cy="411.0" r="6.2" fill="url(#sph)" stroke="#284868" stroke-width="0.55"/><circle cx="285.7" cy="412.5" r="6.2" fill="url(#sph)" stroke="#284868" stroke-width="0.55"/><circle cx="285.7" cy="389.9" r="6.2" fill="url(#sph)" stroke="#284868" stroke-width="0.55"/><circle cx="285.7" cy="402.0" r="6.2" fill="url(#sph)" stroke="#284868" stroke-width="0.55"/></g>
<clipPath id="cl357"><rect x="334.55" y="360" width="46.4" height="60"/></clipPath><g clip-path="url(#cl357)"><path d="M338.75,397 L345.75,385.6 L352.75,382.5 L362.75,382.5 L369.75,385.6 L376.75,397 L376.75,414.6 L338.75,414.6 Z" fill="#3a6490"/><circle cx="357.8" cy="380.5" r="6.2" fill="url(#sph)" stroke="#284868" stroke-width="0.55"/><circle cx="348.9" cy="384.6" r="6.2" fill="url(#sph)" stroke="#284868" stroke-width="0.55"/><circle cx="366.6" cy="384.6" r="6.2" fill="url(#sph)" stroke="#284868" stroke-width="0.55"/><circle cx="339.6" cy="394.6" r="6.2" fill="url(#sph)" stroke="#284868" stroke-width="0.55"/><circle cx="375.9" cy="394.6" r="6.2" fill="url(#sph)" stroke="#284868" stroke-width="0.55"/><circle cx="339.6" cy="407.6" r="6.2" fill="url(#sph)" stroke="#284868" stroke-width="0.55"/><circle cx="375.9" cy="407.6" r="6.2" fill="url(#sph)" stroke="#284868" stroke-width="0.55"/><circle cx="347.9" cy="398.2" r="6.2" fill="url(#sph)" stroke="#284868" stroke-width="0.55"/><circle cx="367.6" cy="398.2" r="6.2" fill="url(#sph)" stroke="#284868" stroke-width="0.55"/><circle cx="348.1" cy="411.0" r="6.2" fill="url(#sph)" stroke="#284868" stroke-width="0.55"/><circle cx="367.4" cy="411.0" r="6.2" fill="url(#sph)" stroke="#284868" stroke-width="0.55"/><circle cx="357.8" cy="412.5" r="6.2" fill="url(#sph)" stroke="#284868" stroke-width="0.55"/><circle cx="357.8" cy="389.0" r="6.2" fill="url(#sph)" stroke="#284868" stroke-width="0.55"/><circle cx="357.8" cy="402.0" r="6.2" fill="url(#sph)" stroke="#284868" stroke-width="0.55"/></g>
<clipPath id="cl428"><rect x="405.3" y="360" width="46.4" height="60"/></clipPath><g clip-path="url(#cl428)"><path d="M409.5,397 L416.5,386 L423.5,380 L433.5,380 L440.5,386 L447.5,397 L447.5,414.6 L409.5,414.6 Z" fill="#3a6490"/><circle cx="428.5" cy="378.0" r="6.2" fill="url(#sph)" stroke="#284868" stroke-width="0.55"/><circle cx="417.9" cy="385.0" r="6.2" fill="url(#sph)" stroke="#284868" stroke-width="0.55"/><circle cx="439.1" cy="385.0" r="6.2" fill="url(#sph)" stroke="#284868" stroke-width="0.55"/><circle cx="410.3" cy="394.6" r="6.2" fill="url(#sph)" stroke="#284868" stroke-width="0.55"/><circle cx="446.7" cy="394.6" r="6.2" fill="url(#sph)" stroke="#284868" stroke-width="0.55"/><circle cx="410.3" cy="407.6" r="6.2" fill="url(#sph)" stroke="#284868" stroke-width="0.55"/><circle cx="446.7" cy="407.6" r="6.2" fill="url(#sph)" stroke="#284868" stroke-width="0.55"/><circle cx="418.7" cy="398.2" r="6.2" fill="url(#sph)" stroke="#284868" stroke-width="0.55"/><circle cx="438.3" cy="398.2" r="6.2" fill="url(#sph)" stroke="#284868" stroke-width="0.55"/><circle cx="418.9" cy="411.0" r="6.2" fill="url(#sph)" stroke="#284868" stroke-width="0.55"/><circle cx="438.1" cy="411.0" r="6.2" fill="url(#sph)" stroke="#284868" stroke-width="0.55"/><circle cx="428.5" cy="412.5" r="6.2" fill="url(#sph)" stroke="#284868" stroke-width="0.55"/><circle cx="428.5" cy="387.8" r="6.2" fill="url(#sph)" stroke="#284868" stroke-width="0.55"/><circle cx="428.5" cy="402.0" r="6.2" fill="url(#sph)" stroke="#284868" stroke-width="0.55"/></g>
<clipPath id="cl502"><rect x="478.8" y="360" width="46.4" height="60"/></clipPath><g clip-path="url(#cl502)"><path d="M483,397 L490,385.7 L497,380.2 L507,380.2 L514,385.7 L521,397 L521,414.6 L483,414.6 Z" fill="#3a6490"/><circle cx="502.0" cy="378.2" r="6.2" fill="url(#sph)" stroke="#284868" stroke-width="0.55"/><circle cx="491.0" cy="384.7" r="6.2" fill="url(#sph)" stroke="#284868" stroke-width="0.55"/><circle cx="513.0" cy="384.7" r="6.2" fill="url(#sph)" stroke="#284868" stroke-width="0.55"/><circle cx="483.8" cy="394.6" r="6.2" fill="url(#sph)" stroke="#284868" stroke-width="0.55"/><circle cx="520.2" cy="394.6" r="6.2" fill="url(#sph)" stroke="#284868" stroke-width="0.55"/><circle cx="483.8" cy="407.6" r="6.2" fill="url(#sph)" stroke="#284868" stroke-width="0.55"/><circle cx="520.2" cy="407.6" r="6.2" fill="url(#sph)" stroke="#284868" stroke-width="0.55"/><circle cx="492.2" cy="398.2" r="6.2" fill="url(#sph)" stroke="#284868" stroke-width="0.55"/><circle cx="511.8" cy="398.2" r="6.2" fill="url(#sph)" stroke="#284868" stroke-width="0.55"/><circle cx="492.4" cy="411.0" r="6.2" fill="url(#sph)" stroke="#284868" stroke-width="0.55"/><circle cx="511.6" cy="411.0" r="6.2" fill="url(#sph)" stroke="#284868" stroke-width="0.55"/><circle cx="502.0" cy="412.5" r="6.2" fill="url(#sph)" stroke="#284868" stroke-width="0.55"/><circle cx="502.0" cy="388.6" r="6.2" fill="url(#sph)" stroke="#284868" stroke-width="0.55"/><circle cx="502.0" cy="402.0" r="6.2" fill="url(#sph)" stroke="#284868" stroke-width="0.55"/></g>
<clipPath id="cl571"><rect x="548.1999999999999" y="360" width="46.4" height="60"/></clipPath><g clip-path="url(#cl571)"><path d="M552.4,397 L559.4,387 L566.4,382.2 L576.4,382.2 L583.4,387 L590.4,397 L590.4,414.6 L552.4,414.6 Z" fill="#3a6490"/><circle cx="571.4" cy="380.2" r="6.2" fill="url(#sph)" stroke="#284868" stroke-width="0.55"/><circle cx="561.2" cy="386.0" r="6.2" fill="url(#sph)" stroke="#284868" stroke-width="0.55"/><circle cx="581.6" cy="386.0" r="6.2" fill="url(#sph)" stroke="#284868" stroke-width="0.55"/><circle cx="553.2" cy="394.6" r="6.2" fill="url(#sph)" stroke="#284868" stroke-width="0.55"/><circle cx="589.6" cy="394.6" r="6.2" fill="url(#sph)" stroke="#284868" stroke-width="0.55"/><circle cx="553.2" cy="407.6" r="6.2" fill="url(#sph)" stroke="#284868" stroke-width="0.55"/><circle cx="589.6" cy="407.6" r="6.2" fill="url(#sph)" stroke="#284868" stroke-width="0.55"/><circle cx="561.6" cy="398.2" r="6.2" fill="url(#sph)" stroke="#284868" stroke-width="0.55"/><circle cx="581.2" cy="398.2" r="6.2" fill="url(#sph)" stroke="#284868" stroke-width="0.55"/><circle cx="561.8" cy="411.0" r="6.2" fill="url(#sph)" stroke="#284868" stroke-width="0.55"/><circle cx="581.0" cy="411.0" r="6.2" fill="url(#sph)" stroke="#284868" stroke-width="0.55"/><circle cx="571.4" cy="412.5" r="6.2" fill="url(#sph)" stroke="#284868" stroke-width="0.55"/><circle cx="571.4" cy="389.3" r="6.2" fill="url(#sph)" stroke="#284868" stroke-width="0.55"/><circle cx="571.4" cy="402.0" r="6.2" fill="url(#sph)" stroke="#284868" stroke-width="0.55"/></g>
<clipPath id="cl643"><rect x="620.1999999999999" y="360" width="46.4" height="60"/></clipPath><g clip-path="url(#cl643)"><path d="M624.4,397 L631.4,388 L638.4,385 L648.4,385 L655.4,388 L662.4,397 L662.4,414.6 L624.4,414.6 Z" fill="#3a6490"/><circle cx="643.4" cy="383.0" r="6.2" fill="url(#sph)" stroke="#284868" stroke-width="0.55"/><circle cx="634.6" cy="387.0" r="6.2" fill="url(#sph)" stroke="#284868" stroke-width="0.55"/><circle cx="652.2" cy="387.0" r="6.2" fill="url(#sph)" stroke="#284868" stroke-width="0.55"/><circle cx="625.2" cy="394.6" r="6.2" fill="url(#sph)" stroke="#284868" stroke-width="0.55"/><circle cx="661.6" cy="394.6" r="6.2" fill="url(#sph)" stroke="#284868" stroke-width="0.55"/><circle cx="625.2" cy="407.6" r="6.2" fill="url(#sph)" stroke="#284868" stroke-width="0.55"/><circle cx="661.6" cy="407.6" r="6.2" fill="url(#sph)" stroke="#284868" stroke-width="0.55"/><circle cx="633.6" cy="398.2" r="6.2" fill="url(#sph)" stroke="#284868" stroke-width="0.55"/><circle cx="653.2" cy="398.2" r="6.2" fill="url(#sph)" stroke="#284868" stroke-width="0.55"/><circle cx="633.8" cy="411.0" r="6.2" fill="url(#sph)" stroke="#284868" stroke-width="0.55"/><circle cx="653.0" cy="411.0" r="6.2" fill="url(#sph)" stroke="#284868" stroke-width="0.55"/><circle cx="643.4" cy="412.5" r="6.2" fill="url(#sph)" stroke="#284868" stroke-width="0.55"/><circle cx="643.4" cy="390.0" r="6.2" fill="url(#sph)" stroke="#284868" stroke-width="0.55"/><circle cx="643.4" cy="402.0" r="6.2" fill="url(#sph)" stroke="#284868" stroke-width="0.55"/></g>
<circle cx="278.5" cy="388" r="3.2" fill="url(#gC)"/>
<circle cx="283" cy="385.8" r="3.2" fill="url(#gC)"/>
<circle cx="288.5" cy="385.8" r="3.2" fill="url(#gC)"/>
<circle cx="293" cy="388" r="3.2" fill="url(#gC)"/>
<circle cx="275.8" cy="383.4" r="1.7" fill="url(#gH)" stroke="#999" stroke-width="0.2"/>
<circle cx="279.4" cy="385.5" r="1.7" fill="url(#gH)" stroke="#999" stroke-width="0.2"/>
<circle cx="275.2" cy="392" r="1.7" fill="url(#gH)" stroke="#999" stroke-width="0.2"/>
<circle cx="295.2" cy="383.3" r="1.7" fill="url(#gH)" stroke="#999" stroke-width="0.2"/>
<circle cx="292" cy="385.5" r="1.7" fill="url(#gH)" stroke="#999" stroke-width="0.2"/>
<circle cx="296" cy="392" r="1.7" fill="url(#gH)" stroke="#999" stroke-width="0.2"/>
<circle cx="347.7" cy="376.3" r="3.2" fill="url(#gC)"/>
<circle cx="354.2" cy="374.3" r="3.2" fill="url(#gC)"/>
<circle cx="344.5" cy="381.5" r="3.2" fill="url(#gC)"/>
<circle cx="349" cy="382.8" r="3.2" fill="url(#gC)"/>
<circle cx="354.9" cy="379.5" r="3.2" fill="url(#gC)"/>
<circle cx="345.1" cy="372.4" r="1.7" fill="url(#gH)" stroke="#999" stroke-width="0.2"/>
<circle cx="353.6" cy="369.1" r="1.7" fill="url(#gH)" stroke="#999" stroke-width="0.2"/>
<circle cx="359" cy="374.3" r="1.7" fill="url(#gH)" stroke="#999" stroke-width="0.2"/>
<circle cx="358.1" cy="379.1" r="1.7" fill="url(#gH)" stroke="#999" stroke-width="0.2"/>
<circle cx="339" cy="382.8" r="1.7" fill="url(#gH)" stroke="#999" stroke-width="0.2"/>
<circle cx="347.3" cy="386.7" r="1.7" fill="url(#gH)" stroke="#999" stroke-width="0.2"/>
<circle cx="409.9" cy="380.8" r="3.2" fill="url(#gC)"/>
<circle cx="416.4" cy="378.2" r="3.2" fill="url(#gC)"/>
<circle cx="422.3" cy="380.2" r="3.2" fill="url(#gC)"/>
<circle cx="427.5" cy="375.6" r="3.2" fill="url(#gC)"/>
<circle cx="407.7" cy="376.3" r="1.7" fill="url(#gH)" stroke="#999" stroke-width="0.2"/>
<circle cx="409.3" cy="385.4" r="1.7" fill="url(#gH)" stroke="#999" stroke-width="0.2"/>
<circle cx="417.7" cy="373" r="1.7" fill="url(#gH)" stroke="#999" stroke-width="0.2"/>
<circle cx="420.7" cy="384.1" r="1.7" fill="url(#gH)" stroke="#999" stroke-width="0.2"/>
<circle cx="425.5" cy="371.7" r="1.7" fill="url(#gH)" stroke="#999" stroke-width="0.2"/>
<circle cx="429.4" cy="371.7" r="1.7" fill="url(#gH)" stroke="#999" stroke-width="0.2"/>
<circle cx="432" cy="378.2" r="1.7" fill="url(#gH)" stroke="#999" stroke-width="0.2"/>
<circle cx="498.1" cy="380.2" r="3.2" fill="url(#gC)"/>
<circle cx="505.9" cy="380.2" r="3.2" fill="url(#gC)"/>
<circle cx="495.5" cy="386" r="3.2" fill="url(#gC)"/>
<circle cx="508.5" cy="386" r="3.2" fill="url(#gC)"/>
<circle cx="495.9" cy="375" r="1.7" fill="url(#gH)" stroke="#999" stroke-width="0.2"/>
<circle cx="507.9" cy="375" r="1.7" fill="url(#gH)" stroke="#999" stroke-width="0.2"/>
<circle cx="496.2" cy="379.5" r="1.7" fill="url(#gH)" stroke="#999" stroke-width="0.2"/>
<circle cx="507.2" cy="379.5" r="1.7" fill="url(#gH)" stroke="#999" stroke-width="0.2"/>
<circle cx="489.7" cy="386" r="1.7" fill="url(#gH)" stroke="#999" stroke-width="0.2"/>
<circle cx="514.1" cy="386" r="1.7" fill="url(#gH)" stroke="#999" stroke-width="0.2"/>
<circle cx="495.5" cy="391.2" r="1.7" fill="url(#gH)" stroke="#999" stroke-width="0.2"/>
<circle cx="508.5" cy="391.2" r="1.7" fill="url(#gH)" stroke="#999" stroke-width="0.2"/>
<circle cx="565.1" cy="392.5" r="3.2" fill="url(#gC)"/>
<circle cx="571.4" cy="393.8" r="3.2" fill="url(#gC)"/>
<circle cx="577.6" cy="392.5" r="3.2" fill="url(#gC)"/>
<circle cx="564.9" cy="387.3" r="1.7" fill="url(#gH)" stroke="#999" stroke-width="0.2"/>
<circle cx="577.9" cy="387.3" r="1.7" fill="url(#gH)" stroke="#999" stroke-width="0.2"/>
<circle cx="559.7" cy="393.2" r="1.7" fill="url(#gH)" stroke="#999" stroke-width="0.2"/>
<circle cx="582.4" cy="393.2" r="1.7" fill="url(#gH)" stroke="#999" stroke-width="0.2"/>
<circle cx="564.9" cy="396" r="1.7" fill="url(#gH)" stroke="#999" stroke-width="0.2"/>
<circle cx="577.9" cy="396" r="1.7" fill="url(#gH)" stroke="#999" stroke-width="0.2"/>
<circle cx="644.5" cy="372.9" r="3.5" fill="url(#gC)"/>
<circle cx="646.3" cy="371.1" r="2.1" fill="url(#gH)" stroke="#999" stroke-width="0.2"/>
</g>
</svg></body></html>
